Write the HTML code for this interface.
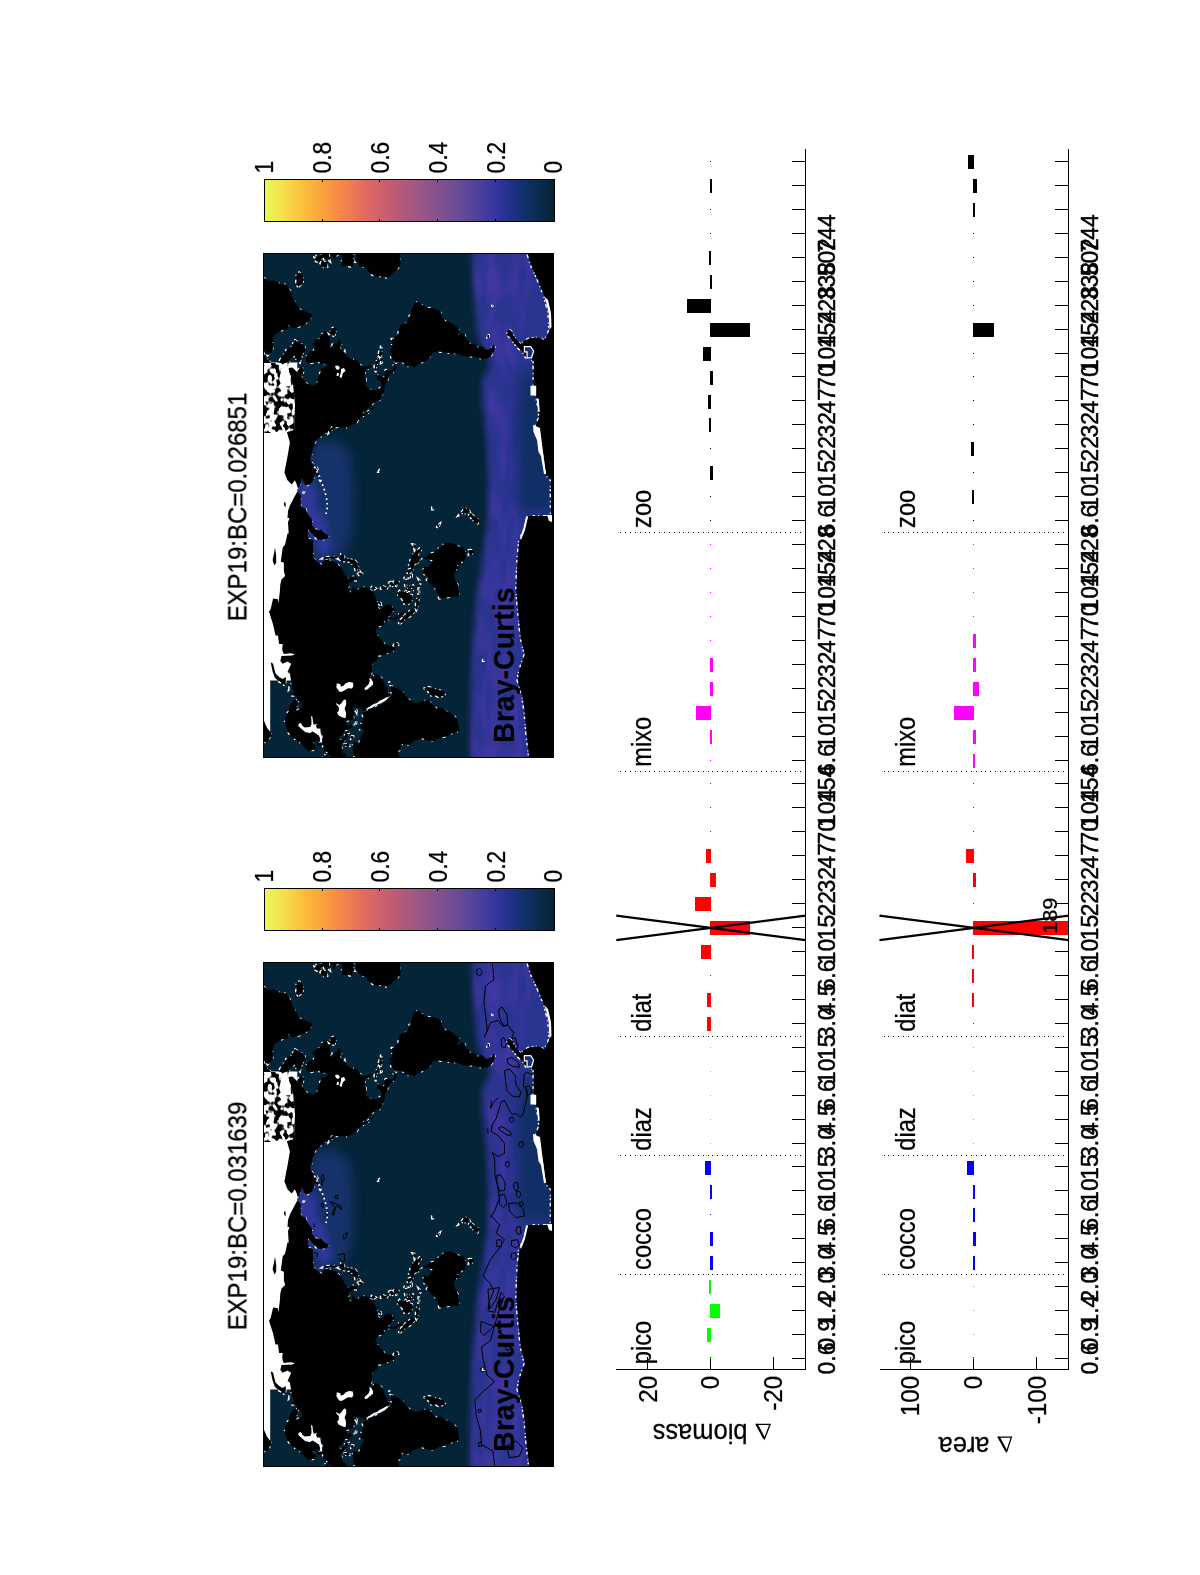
<!DOCTYPE html><html><head><meta charset="utf-8"><title>EXP19 Bray-Curtis</title><style>
html,body{margin:0;padding:0;background:#fff}
svg{display:block}
text{font-family:"Liberation Sans",sans-serif;fill:#000;stroke:#000;stroke-width:0.3px}
.t24{font-size:25px}
.xt{stroke-width:0.5px;font-size:24.6px}
.t27{font-size:27.5px}
.t28{font-size:28.5px}
.t21{font-size:21px}
.ttl{font-size:26.5px}
.bc{font-size:28.6px;font-weight:bold;stroke-width:0}
</style></head><body>
<svg width="1200" height="1575" viewBox="0 0 1200 1575">
<rect width="1200" height="1575" fill="#fff"/><g opacity="0.999">
<defs><linearGradient id="cbar" x1="0" x2="1" y1="0" y2="0"><stop offset="0" stop-color="#e8fa5b"/><stop offset="0.05" stop-color="#f3e64f"/><stop offset="0.1" stop-color="#f9cf43"/><stop offset="0.15" stop-color="#fbb93c"/><stop offset="0.2" stop-color="#fba33b"/><stop offset="0.25" stop-color="#f68d45"/><stop offset="0.3" stop-color="#ee7b52"/><stop offset="0.35" stop-color="#e16b5f"/><stop offset="0.4" stop-color="#d0616a"/><stop offset="0.45" stop-color="#bd5b75"/><stop offset="0.5" stop-color="#a9587f"/><stop offset="0.55" stop-color="#965587"/><stop offset="0.6" stop-color="#83528e"/><stop offset="0.65" stop-color="#704e94"/><stop offset="0.7" stop-color="#5c4899"/><stop offset="0.75" stop-color="#483f9e"/><stop offset="0.8" stop-color="#35369f"/><stop offset="0.85" stop-color="#1f3189"/><stop offset="0.9" stop-color="#0f3169"/><stop offset="0.95" stop-color="#0b2b4d"/><stop offset="1" stop-color="#042333"/></linearGradient><clipPath id="mclip"><rect x="263.5" y="253.3" width="289.5" height="504.2"/></clipPath>
<filter id="b3" x="-20%" y="-20%" width="140%" height="140%"><feGaussianBlur stdDeviation="3"/></filter>
<filter id="b2" x="-20%" y="-20%" width="140%" height="140%"><feGaussianBlur stdDeviation="1.8"/></filter>
<filter id="b6" x="-30%" y="-30%" width="160%" height="160%"><feGaussianBlur stdDeviation="6"/></filter>
<filter id="mott" x="0" y="0" width="100%" height="100%" filterUnits="objectBoundingBox" color-interpolation-filters="sRGB"><feTurbulence type="fractalNoise" baseFrequency="0.08 0.03" numOctaves="2" seed="7" result="n"/><feColorMatrix in="n" type="matrix" values="0 0 0 0 0.31  0 0 0 0 0.22  0 0 0 0 0.68  2.2 0 0 0 -0.75" result="c"/><feGaussianBlur in="SourceAlpha" stdDeviation="2.5" result="a"/><feComposite in="c" in2="a" operator="in"/></filter>
<filter id="speck" x="0" y="0" width="100%" height="100%" color-interpolation-filters="sRGB"><feTurbulence type="fractalNoise" baseFrequency="0.16 0.13" numOctaves="2" seed="11" result="n"/><feColorMatrix in="n" type="matrix" values="0 0 0 0 0  0 0 0 0 0  0 0 0 0 0  9 0 0 0 -4.3" result="c"/><feComposite in="c" in2="SourceAlpha" operator="in"/></filter>
<path id="landc" d="M355.1 261.5L356.3 256.1L355.1 253.3L353.4 249.1L353.1 242.1L352.8 239.3L356.5 237.9L358.2 239.3L359.6 237.9L360.9 232.3L364.5 226.7L363.3 225.3L360.2 225.3L360.6 221.1L362.3 218.3L363.5 212.7L362.4 209.9L363.1 207.8L362.8 205.4L365.0 207.8L367.8 206.4L372.7 204.3L374.8 203.4L377.6 201.5L380.7 201.0L381.8 199.2L385.3 198.0L386.3 195.9L389.2 193.1L390.8 192.6L392.3 190.3L391.3 187.5L391.0 184.7L390.5 181.6L393.0 182.1L397.9 184.7L400.7 186.1L403.6 188.9L405.6 191.7L408.4 194.5L409.8 195.9L411.9 197.3L414.0 198.2L416.1 198.7L418.9 198.0L421.0 197.5L423.1 196.6L427.7 196.4L430.1 197.3L432.4 200.8L434.8 202.2L436.4 204.3L439.5 203.6L442.6 203.7L445.0 207.1L447.3 207.3L450.1 208.0L451.9 209.9L453.9 211.3L456.0 213.4L457.6 215.5L458.0 217.4L458.2 221.1L459.3 225.3L458.5 227.4L455.7 227.8L452.7 228.8L449.8 230.2L447.0 232.0L442.6 233.0L440.0 233.1L436.4 235.1L433.2 236.8L430.1 236.8L426.2 235.8L422.4 234.0L419.6 234.8L415.4 236.1L413.3 236.8L410.5 240.0L408.0 240.7L405.6 240.0L402.8 239.6L401.0 240.7L400.8 243.5L401.0 244.9L398.3 247.0L398.2 249.8L398.9 251.9L400.0 255.4L399.9 257.5L399.9 260.3L400.8 263.8L400.0 265.9L397.6 268.7L395.1 271.5L393.3 272.2L391.6 274.3L389.5 276.8L387.4 276.8L386.4 277.8L384.6 276.4L380.4 276.1L377.6 277.1L374.1 275.7L370.6 273.6L368.1 271.5L366.7 268.7L365.3 267.0L362.4 266.9L359.4 265.2L358.2 262.8Z M355.1 765.8L356.3 760.3L355.1 757.5L353.4 753.3L353.1 746.3L352.8 743.5L356.5 742.1L358.2 743.5L359.6 742.1L360.9 736.5L364.5 730.9L363.3 729.5L360.2 729.5L360.6 725.3L362.3 722.5L363.5 716.9L362.4 714.1L363.1 712.0L362.8 709.6L365.0 712.0L367.8 710.6L372.7 708.5L374.8 707.6L377.6 705.7L380.7 705.3L381.8 703.4L385.3 702.2L386.3 700.1L389.2 697.3L390.8 696.9L392.3 694.5L391.3 691.7L391.0 688.9L390.5 685.8L393.0 686.3L397.9 688.9L400.7 690.3L403.6 693.1L405.6 695.9L408.4 698.7L409.8 700.1L411.9 701.5L414.0 702.5L416.1 702.9L418.9 702.2L421.0 701.8L423.1 700.8L427.7 700.6L430.1 701.5L432.4 705.0L434.8 706.4L436.4 708.5L439.5 707.8L442.6 707.9L445.0 711.3L447.3 711.6L450.1 712.3L451.9 714.1L453.9 715.5L456.0 717.6L457.6 719.7L458.0 721.6L458.2 725.3L459.3 729.5L458.5 731.6L455.7 732.0L452.7 733.0L449.8 734.4L447.0 736.2L442.6 737.2L440.0 737.3L436.4 739.3L433.2 741.0L430.1 741.0L426.2 740.0L422.4 738.2L419.6 739.0L415.4 740.3L413.3 741.0L410.5 744.2L408.0 744.9L405.6 744.2L402.8 743.8L401.0 744.9L400.8 747.7L401.0 749.1L398.3 751.2L398.2 754.0L398.9 756.1L400.0 759.6L399.9 761.7L399.9 764.5L400.8 768.0L400.0 770.1L397.6 772.9L395.1 775.7L393.3 776.4L391.6 778.5L389.5 781.0L387.4 781.0L386.4 782.0L384.6 780.6L380.4 780.3L377.6 781.3L374.1 779.9L370.6 777.8L368.1 775.7L366.7 772.9L365.3 771.2L362.4 771.1L359.4 769.4L358.2 767.0Z M354.8 261.1L353.1 262.4L353.1 265.9L350.2 266.6L346.3 265.6L342.9 266.2L341.7 264.5L342.2 258.9L342.2 255.8L340.2 255.0L337.7 255.0L335.5 256.4L334.4 259.6L333.1 259.9L332.7 255.4L330.9 255.8L331.2 253.0L328.9 251.0L327.8 248.4L325.8 247.0L324.3 246.3L323.7 243.5L323.0 241.0L320.2 241.2L317.5 241.8L316.2 238.6L319.3 238.6L321.2 239.3L323.0 237.9L323.0 233.7L321.5 228.1L322.3 226.0L320.8 223.9L317.5 223.9L316.2 222.5L317.1 219.7L315.1 219.2L313.5 220.4L312.7 214.1L312.0 211.3L310.8 214.1L312.2 221.1L310.8 223.2L305.9 223.5L299.8 218.3L297.8 219.7L298.3 222.5L301.5 223.5L306.4 228.8L309.6 229.2L312.0 227.0L317.5 230.2L319.0 230.9L320.2 233.3L320.2 235.4L318.4 235.8L314.8 237.6L313.3 238.6L315.5 241.8L315.1 244.9L312.0 246.3L307.1 246.3L303.4 242.1L300.7 238.6L297.3 235.8L292.4 233.0L289.9 230.2L287.5 226.7L285.6 221.1L285.1 216.9L285.1 213.4L286.8 209.9L289.0 207.1L289.9 201.5L293.6 195.9L296.6 195.9L297.3 200.1L295.6 207.1L299.8 204.5L301.7 204.3L302.2 200.8L300.7 197.3L297.3 196.6L296.8 191.7L292.4 191.4L291.7 188.9L294.9 188.2L292.4 184.7L291.2 177.7L289.9 169.2L287.5 167.8L291.2 159.4L287.5 157.3L282.7 159.4L280.3 156.6L281.5 151.7L292.4 151.3L294.9 149.6L289.9 148.9L283.9 149.9L282.7 147.5L282.2 144.0L282.7 139.8L279.1 139.8L277.9 131.4L275.5 131.4L273.1 120.2L269.0 107.6L270.7 104.8L273.1 94.3L277.9 95.0L278.4 99.2L279.8 88.0L280.3 80.3L281.5 75.4L285.1 71.9L283.9 67.0L283.9 58.6L280.8 57.2L282.7 43.2L285.1 40.4L287.5 29.2L288.7 29.2L288.0 18.0L289.5 13.8L287.5 13.8L288.0 6.8L289.9 1.2L293.6 -5.8L297.3 -12.8L301.0 -8.6L300.5 -1.6L301.0 2.6L305.9 4.7L307.6 9.6L312.0 15.2L312.0 20.8L315.7 25.0L319.3 26.4L321.2 25.0L321.5 26.4L324.8 29.2L328.5 31.3L328.5 33.8L323.0 35.5L317.5 35.2L315.7 33.4L312.0 29.2L308.3 25.0L307.6 29.2L308.3 34.1L313.3 36.2L312.9 43.2L313.3 53.0L316.6 57.2L322.1 60.7L323.0 57.2L325.8 55.4L330.3 56.5L334.0 57.2L337.7 60.0L341.2 63.5L343.4 67.0L343.8 69.8L345.4 71.6L348.3 74.7L353.1 72.2L356.0 72.2L357.0 74.7L357.4 76.4L353.9 76.1L351.9 76.4L351.4 78.2L348.9 78.2L348.3 79.6L349.7 83.1L347.1 82.4L349.2 86.6L350.6 88.4L352.6 86.6L352.1 83.8L353.1 81.7L354.8 84.5L356.5 86.2L359.9 84.5L362.4 82.7L364.7 83.1L365.7 82.4L367.8 83.8L370.6 85.6L372.6 87.3L374.1 89.4L375.5 92.9L376.2 95.0L377.2 98.5L378.6 99.2L376.9 99.6L376.9 102.0L378.3 103.8L380.7 105.2L383.2 103.4L385.3 101.0L388.8 100.2L390.9 100.3L392.3 103.4L393.7 104.1L394.8 106.2L393.0 106.5L391.6 109.0L390.2 109.7L389.1 111.8L388.1 113.2L390.9 113.2L393.0 114.2L395.1 113.2L397.5 111.8L399.3 109.7L401.4 108.5L403.5 108.3L405.0 107.3L405.2 108.3L403.1 111.4L399.3 112.8L397.6 113.6L395.8 115.3L393.7 115.6L391.6 115.0L388.8 115.3L386.0 116.4L383.9 116.6L383.9 118.8L384.6 120.9L381.8 121.2L379.0 122.3L376.9 124.4L375.5 125.8L376.5 128.6L377.0 131.4L379.0 132.1L379.7 134.2L383.5 137.7L385.3 140.8L388.1 141.2L391.6 141.5L393.7 142.6L395.7 144.7L394.4 146.1L390.9 147.5L387.4 148.9L384.6 150.3L381.1 151.0L377.6 151.5L377.9 154.5L375.8 156.6L373.8 158.0L372.4 159.2L371.7 162.9L371.9 167.1L371.3 170.9L369.5 173.2L368.9 174.4L369.8 177.0L368.4 179.8L365.7 182.6L364.5 184.7L365.7 186.1L367.8 185.1L369.9 183.1L372.0 182.6L370.6 181.4L372.7 181.0L373.1 178.4L371.3 175.8L370.3 174.4L372.7 174.2L374.0 171.3L375.5 169.5L378.3 171.1L380.4 172.5L381.8 173.9L382.9 176.0L384.6 180.2L387.1 184.7L389.1 190.3L389.2 192.4L386.3 193.3L383.9 193.8L380.8 195.9L377.6 198.4L374.1 199.4L371.7 201.2L368.1 203.6L365.7 204.4L367.8 205.2L366.7 206.8L365.1 207.6L362.8 205.4L360.2 204.3L356.5 203.1L353.6 202.6L353.4 204.8L354.6 207.8L353.4 210.4L353.8 212.7L353.1 214.9L350.6 216.3L348.9 215.9L348.0 216.6L346.6 216.9L346.6 219.7L347.5 221.4L351.1 219.7L351.7 221.1L353.9 221.1L353.4 222.5L351.9 223.5L348.5 225.3L345.4 226.1L344.1 226.7L342.1 230.9L339.1 233.0L338.4 234.1L338.9 236.1L341.2 235.8L343.8 233.7L344.9 230.9L347.7 227.4L347.1 229.5L348.9 230.2L349.7 229.5L351.4 230.9L348.0 231.3L346.6 233.7L345.1 236.1L343.1 238.6L341.2 239.3L340.5 241.0L341.5 242.8L342.7 244.9L342.1 247.7L342.9 249.1L344.8 248.8L346.3 252.2L348.9 253.7L350.2 253.3L351.9 254.3L353.4 256.1L353.6 259.6Z M354.8 765.3L353.1 766.6L353.1 770.1L350.2 770.8L346.3 769.8L342.9 770.4L341.7 768.7L342.2 763.1L342.2 760.0L340.2 759.2L337.7 759.2L335.5 760.6L334.4 763.8L333.1 764.1L332.7 759.6L330.9 760.0L331.2 757.2L328.9 755.3L327.8 752.6L325.8 751.2L324.3 750.5L323.7 747.7L323.0 745.2L320.2 745.5L317.5 746.0L316.2 742.8L319.3 742.8L321.2 743.5L323.0 742.1L323.0 737.9L321.5 732.3L322.3 730.2L320.8 728.1L317.5 728.1L316.2 726.7L317.1 723.9L315.1 723.5L313.5 724.6L312.7 718.3L312.0 715.5L310.8 718.3L312.2 725.3L310.8 727.4L305.9 727.7L299.8 722.5L297.8 723.9L298.3 726.7L301.5 727.7L306.4 733.0L309.6 733.4L312.0 731.2L317.5 734.4L319.0 735.1L320.2 737.5L320.2 739.6L318.4 740.0L314.8 741.8L313.3 742.8L315.5 746.0L315.1 749.1L312.0 750.5L307.1 750.5L303.4 746.3L300.7 742.8L297.3 740.0L292.4 737.2L289.9 734.4L287.5 730.9L285.6 725.3L285.1 721.1L285.1 717.6L286.8 714.1L289.0 711.3L289.9 705.7L293.6 700.1L296.6 700.1L297.3 704.3L295.6 711.3L299.8 708.8L301.7 708.5L302.2 705.0L300.7 701.5L297.3 700.8L296.8 695.9L292.4 695.6L291.7 693.1L294.9 692.4L292.4 688.9L291.2 681.9L289.9 673.5L287.5 672.1L291.2 663.7L287.5 661.6L282.7 663.7L280.3 660.9L281.5 656.0L292.4 655.5L294.9 653.9L289.9 653.2L283.9 654.1L282.7 651.8L282.2 648.3L282.7 644.1L279.1 644.1L277.9 635.6L275.5 635.6L273.1 624.4L269.0 611.8L270.7 609.0L273.1 598.5L277.9 599.2L278.4 603.4L279.8 592.2L280.3 584.5L281.5 579.6L285.1 576.1L283.9 571.2L283.9 562.8L280.8 561.4L282.7 547.4L285.1 544.6L287.5 533.4L288.7 533.4L288.0 522.2L289.5 518.0L287.5 518.0L288.0 511.0L289.9 505.4L293.6 498.4L297.3 491.4L301.0 495.6L300.5 502.6L301.0 506.8L305.9 508.9L307.6 513.8L312.0 519.4L312.0 525.0L315.7 529.2L319.3 530.6L321.2 529.2L321.5 530.6L324.8 533.4L328.5 535.5L328.5 538.0L323.0 539.7L317.5 539.4L315.7 537.6L312.0 533.4L308.3 529.2L307.6 533.4L308.3 538.3L313.3 540.4L312.9 547.4L313.3 557.2L316.6 561.4L322.1 564.9L323.0 561.4L325.8 559.6L330.3 560.7L334.0 561.4L337.7 564.2L341.2 567.7L343.4 571.2L343.8 574.0L345.4 575.8L348.3 578.9L353.1 576.4L356.0 576.4L357.0 578.9L357.4 580.6L353.9 580.3L351.9 580.6L351.4 582.4L348.9 582.4L348.3 583.8L349.7 587.3L347.1 586.6L349.2 590.8L350.6 592.6L352.6 590.8L352.1 588.0L353.1 585.9L354.8 588.7L356.5 590.4L359.9 588.7L362.4 586.9L364.7 587.3L365.7 586.6L367.8 588.0L370.6 589.8L372.6 591.5L374.1 593.6L375.5 597.1L376.2 599.2L377.2 602.7L378.6 603.4L376.9 603.9L376.9 606.2L378.3 608.1L380.7 609.5L383.2 607.6L385.3 605.3L388.8 604.4L390.9 604.6L392.3 607.6L393.7 608.3L394.8 610.4L393.0 610.7L391.6 613.2L390.2 613.9L389.1 616.0L388.1 617.4L390.9 617.4L393.0 618.4L395.1 617.4L397.5 616.0L399.3 613.9L401.4 612.7L403.5 612.5L405.0 611.6L405.2 612.5L403.1 615.6L399.3 617.0L397.6 617.9L395.8 619.5L393.7 619.8L391.6 619.3L388.8 619.5L386.0 620.7L383.9 620.8L383.9 623.0L384.6 625.1L381.8 625.4L379.0 626.5L376.9 628.6L375.5 630.0L376.5 632.8L377.0 635.6L379.0 636.3L379.7 638.4L383.5 642.0L385.3 645.0L388.1 645.5L391.6 645.7L393.7 646.9L395.7 649.0L394.4 650.4L390.9 651.8L387.4 653.2L384.6 654.6L381.1 655.3L377.6 655.7L377.9 658.8L375.8 660.9L373.8 662.3L372.4 663.4L371.7 667.2L371.9 671.4L371.3 675.1L369.5 677.4L368.9 678.6L369.8 681.2L368.4 684.0L365.7 686.8L364.5 688.9L365.7 690.3L367.8 689.3L369.9 687.3L372.0 686.8L370.6 685.6L372.7 685.2L373.1 682.6L371.3 680.0L370.3 678.6L372.7 678.4L374.0 675.6L375.5 673.7L378.3 675.3L380.4 676.7L381.8 678.1L382.9 680.2L384.6 684.4L387.1 688.9L389.1 694.5L389.2 696.6L386.3 697.6L383.9 698.0L380.8 700.1L377.6 702.6L374.1 703.6L371.7 705.4L368.1 707.8L365.7 708.6L367.8 709.5L366.7 711.0L365.1 711.8L362.8 709.6L360.2 708.5L356.5 707.4L353.6 706.8L353.4 709.0L354.6 712.0L353.4 714.6L353.8 716.9L353.1 719.1L350.6 720.5L348.9 720.1L348.0 720.8L346.6 721.1L346.6 723.9L347.5 725.6L351.1 723.9L351.7 725.3L353.9 725.3L353.4 726.7L351.9 727.7L348.5 729.5L345.4 730.3L344.1 730.9L342.1 735.1L339.1 737.2L338.4 738.3L338.9 740.3L341.2 740.0L343.8 737.9L344.9 735.1L347.7 731.6L347.1 733.7L348.9 734.4L349.7 733.7L351.4 735.1L348.0 735.5L346.6 737.9L345.1 740.3L343.1 742.8L341.2 743.5L340.5 745.2L341.5 747.0L342.7 749.1L342.1 751.9L342.9 753.3L344.8 753.0L346.3 756.4L348.9 757.9L350.2 757.5L351.9 758.5L353.4 760.3L353.6 763.8Z M298.3 488.6L296.1 483.0L294.9 480.2L291.7 484.4L287.5 480.2L284.4 472.5L285.6 466.2L287.5 456.4L288.5 450.8L289.9 442.4L287.0 432.6L288.7 428.4L288.7 421.4L291.2 414.4L292.4 407.3L291.2 400.3L292.4 393.3L292.4 387.7L283.9 386.3L287.5 382.1L291.2 376.5L288.7 372.3L288.7 368.1L292.4 367.4L297.3 372.3L301.0 375.1L302.9 379.3L307.1 383.5L312.0 385.6L314.4 385.6L317.5 382.8L318.4 376.5L320.6 372.3L321.2 368.6L324.8 368.1L327.9 366.0L327.6 363.9L323.9 363.7L321.2 364.6L318.4 361.1L314.8 361.8L312.0 363.2L305.9 361.8L306.4 356.2L309.6 351.3L313.8 350.6L315.1 347.1L312.0 344.3L313.8 342.9L316.6 340.1L319.7 338.7L321.7 334.5L324.8 331.7L326.7 331.4L327.9 334.5L330.0 337.3L330.0 342.9L330.3 346.4L333.4 349.9L332.5 344.3L335.3 343.6L337.3 343.3L338.6 338.7L340.4 342.2L342.1 345.7L339.5 345.7L340.0 347.1L341.2 349.9L342.9 352.0L344.6 352.4L345.1 351.3L345.6 353.4L347.0 356.9L348.9 357.2L350.6 359.0L353.1 359.7L355.6 359.3L357.4 361.1L358.5 363.2L361.1 365.3L363.6 367.2L367.1 366.3L369.5 365.3L371.7 365.9L371.6 367.0L369.9 368.1L367.8 369.3L366.1 369.3L365.0 370.9L365.3 373.0L364.3 375.1L364.5 377.9L366.1 378.6L366.0 380.7L365.3 384.2L366.1 386.3L368.1 389.1L371.3 389.8L375.5 390.3L378.3 389.1L380.4 387.7L381.5 385.6L381.0 382.1L380.1 380.7L377.6 380.0L376.8 376.5L377.2 374.9L379.7 375.8L381.1 376.5L384.6 377.0L384.7 373.7L384.9 370.9L386.0 369.8L388.8 370.2L391.6 370.5L393.0 369.5L394.4 368.1L394.7 366.7L393.7 365.1L393.8 363.2L395.1 361.8L393.7 359.7L392.0 358.7L391.3 356.9L390.2 354.8L389.6 353.4L391.6 353.7L391.6 352.7L389.9 351.3L391.2 349.2L392.2 345.7L392.3 342.9L392.0 340.1L393.4 338.7L395.1 337.3L397.2 335.2L398.6 333.1L398.9 328.9L400.3 326.1L401.4 324.7L404.5 323.3L407.0 323.3L408.1 321.2L408.0 319.1L409.8 315.6L410.9 314.9L411.1 311.4L411.9 307.9L413.7 305.4L414.7 302.6L417.5 302.0L419.6 302.6L422.4 305.1L425.4 307.2L429.3 307.9L432.9 308.3L436.4 309.3L439.5 310.7L441.1 312.1L441.4 315.6L443.0 318.4L445.5 321.2L448.8 321.4L451.9 323.3L455.3 326.1L458.0 328.2L459.5 330.3L458.8 333.1L458.0 335.1L461.6 333.4L464.5 334.0L466.0 337.3L466.2 340.1L469.1 340.5L469.4 344.3L471.9 342.9L473.5 344.7L476.0 345.0L477.8 347.8L480.5 345.7L484.1 347.8L486.0 349.9L489.2 349.2L492.3 347.1L493.7 344.6L495.0 347.1L494.1 351.3L491.4 355.5L487.8 358.3L482.3 359.0L477.8 357.6L472.7 356.2L469.4 356.9L464.5 356.2L462.1 355.5L456.5 353.4L451.9 353.4L447.3 352.7L442.6 352.0L436.4 351.6L433.7 351.9L431.7 354.1L429.3 358.3L426.6 360.1L423.8 361.4L420.3 363.2L416.8 365.1L415.4 366.7L413.3 367.2L411.6 365.3L410.1 366.6L407.7 366.0L405.9 365.3L404.9 363.7L401.7 361.8L399.3 361.6L397.2 361.8L396.5 362.8L395.4 362.5L394.5 364.6L395.5 365.8L396.8 366.0L396.4 367.7L395.4 369.5L395.1 370.4L393.0 372.3L392.3 373.5L391.3 373.5L388.9 375.8L388.5 377.2L387.7 380.0L386.7 382.4L384.6 384.9L385.0 387.7L384.3 390.5L383.2 393.3L381.8 396.1L380.8 398.5L379.3 401.0L376.9 400.8L374.5 402.4L372.0 404.5L369.9 406.5L368.1 408.1L366.4 410.2L363.3 411.6L362.1 413.9L365.0 413.8L367.8 411.6L370.6 409.5L373.1 407.8L374.8 406.6L374.4 407.6L372.3 410.2L370.3 410.4L368.5 413.0L366.7 413.4L364.5 415.5L360.8 417.2L358.5 419.0L357.4 422.1L353.9 423.9L351.9 424.9L348.9 426.7L347.1 427.4L343.2 427.2L337.7 427.0L333.4 427.8L333.1 425.6L331.8 425.6L330.0 428.4L327.6 432.3L324.8 433.3L322.1 435.8L319.3 437.5L316.6 440.3L314.8 443.1L314.2 445.9L312.4 449.4L312.0 454.3L310.0 457.8L310.8 461.3L312.9 463.4L313.8 466.2L310.0 465.5L314.2 466.9L316.6 469.7L318.1 473.9L320.2 477.4L321.5 482.3L319.3 478.8L316.9 475.3L314.4 473.9L314.2 477.4L312.9 480.2L312.0 482.3L309.1 484.4L307.1 485.8L304.2 483.7L302.7 478.8L301.0 478.8L301.0 483.0L299.0 486.5Z M267.8 355.5L263.5 348.5L259.2 340.1L257.7 323.3L255.1 302.3L256.8 288.3L259.9 278.5L263.5 277.1L268.3 281.3L273.1 279.9L277.9 282.7L282.7 284.8L286.3 284.1L288.7 288.3L291.7 292.5L292.4 298.1L296.1 302.3L298.0 306.5L299.8 309.3L303.4 310.7L308.3 312.8L312.0 314.2L312.0 316.3L309.6 320.5L305.9 323.3L302.2 325.4L297.3 327.5L292.4 328.2L288.7 324.7L287.5 329.6L283.9 329.6L279.1 331.7L274.3 335.2L272.6 341.5L273.1 348.5L270.7 352.7Z M439.5 598.5L445.8 597.8L451.9 596.4L457.3 596.4L458.6 596.2L459.6 592.2L458.0 589.4L457.9 584.5L455.4 581.0L454.4 576.8L454.2 573.3L455.9 569.8L459.3 567.7L459.6 567.0L456.5 564.9L460.4 564.5L461.3 562.1L464.5 560.7L465.8 556.5L464.9 554.4L466.2 552.3L464.2 550.2L463.4 547.4L459.6 546.7L456.5 545.3L452.7 543.2L448.8 542.5L445.0 543.2L441.9 546.0L439.5 548.1L436.4 549.5L434.8 552.6L432.4 553.0L428.5 554.0L427.4 556.5L422.4 557.5L422.4 558.6L425.4 559.3L429.3 559.3L432.4 560.3L432.4 562.1L429.8 564.9L428.2 567.7L426.2 567.0L424.1 566.0L423.8 568.4L422.8 571.9L424.1 574.0L426.2 575.4L428.5 576.1L428.2 578.2L426.9 579.6L427.7 581.7L430.6 583.8L432.4 586.2L434.0 586.6L436.0 589.4L437.5 592.9L438.4 595.7L439.2 597.8Z"/>
<path id="landi" d="M423.8 688.5L429.3 686.9L432.4 688.2L436.4 689.2L441.1 690.6L444.2 691.7L445.0 694.2L442.6 696.2L438.7 696.9L435.6 695.3L431.7 695.9L429.8 693.1L427.7 690.6L425.4 689.6Z M469.0 554.8L469.1 549.9L471.4 549.8L473.7 551.6L473.5 553.0L471.4 554.1Z M458.6 515.6L460.1 513.4L462.4 511.6L463.9 509.3L464.0 507.5L466.7 508.9L469.4 510.6L470.4 512.4L468.1 512.7L466.7 514.1L464.5 512.8L462.1 513.1L459.6 515.2Z M468.8 515.6L469.9 513.5L471.4 513.8L473.5 515.5L474.9 517.6L477.4 518.3L478.9 520.4L478.2 522.9L477.3 524.3L474.4 521.8L472.4 518.7L470.6 517.3Z M408.1 574.0L407.6 571.9L408.1 569.8L411.6 568.4L409.2 564.9L410.6 560.0L412.5 555.1L414.7 553.0L415.4 550.9L417.5 550.5L421.4 546.7L421.3 550.2L418.9 553.0L417.8 555.8L419.6 557.2L419.7 560.0L418.2 562.8L418.6 564.2L416.4 563.1L414.7 564.2L413.2 567.7L412.6 571.2L410.9 571.5L410.9 572.6L409.1 573.6Z M404.9 604.8L404.6 603.4L403.5 601.6L402.5 599.2L400.6 597.1L398.3 595.0L397.2 593.6L398.6 592.6L399.7 590.8L401.0 592.2L403.5 592.6L405.6 591.1L406.6 592.9L408.4 592.9L410.2 594.6L412.3 595.0L412.6 596.9L411.6 598.5L411.8 600.9L410.9 603.0L409.1 603.4L407.7 604.6Z M399.2 624.0L399.7 620.9L401.8 618.8L403.9 616.7L405.6 614.4L407.7 612.5L409.8 611.1L411.5 609.0L415.1 609.3L415.0 611.1L412.9 613.9L410.6 616.0L408.1 617.7L404.9 619.3L402.8 621.6L400.3 623.7Z M416.5 610.2L415.4 608.3L416.2 605.5L416.1 602.3L416.8 599.7L417.9 597.1L419.0 597.4L418.6 601.3L417.9 605.5L417.4 608.3Z M407.3 590.8L405.6 589.4L405.6 586.6L404.9 583.1L405.6 582.4L406.6 585.2L406.4 588.3L408.3 589.1L408.4 587.3L408.3 585.2L409.5 586.6L411.5 585.9L413.3 585.2L413.7 586.6L411.9 587.6L410.8 588.0L411.2 589.0L414.7 588.9L414.7 590.1L411.9 590.1L410.8 591.1Z M381.1 588.7L381.2 586.3L383.9 586.2L386.0 587.3L387.4 585.9L387.7 583.8L389.2 583.8L388.4 585.5L387.8 587.3L387.0 588.6L384.9 589.4L383.2 589.0Z M397.2 586.6L395.0 584.5L393.4 582.0L395.1 580.3L398.2 580.6L398.9 581.7L397.5 583.8L396.5 584.8Z M390.5 586.6L390.9 584.9L389.5 582.4L391.3 581.6L393.0 582.7L393.7 584.5L393.0 585.9Z M371.7 588.0L372.0 586.8L374.8 587.5L376.2 588.3L374.8 589.3L373.1 589.0Z M380.1 605.3L378.9 603.0L379.6 602.0L381.1 603.0L381.4 604.8Z M358.2 574.2L357.9 572.6L355.6 571.2L355.3 568.4L352.6 566.0L352.4 563.5L349.7 561.7L347.0 561.4L345.8 559.6L348.0 558.8L350.9 559.2L353.4 560.2L355.3 560.4L356.5 561.7L357.2 563.5L357.2 565.6L359.1 567.3L357.2 568.4L357.7 571.2L358.7 573.3Z M359.9 575.7L358.4 574.0L359.9 572.8L362.6 573.6L363.0 575.0L361.1 575.1Z M358.4 571.9L357.7 569.4L358.7 569.1L360.2 571.2Z M345.4 561.4L342.6 561.0L338.8 559.0L340.5 557.2L341.5 554.0L342.9 554.4L344.6 556.8L343.8 559.6L345.1 560.0Z M322.4 558.6L324.8 557.2L330.3 556.8L334.0 556.8L336.8 556.5L337.7 557.9L334.9 558.6L330.3 558.3L326.7 558.9Z M393.6 645.7L394.4 644.3L396.5 642.9L398.2 643.6L398.6 645.0L396.5 645.9Z M298.5 286.9L296.3 284.1L296.6 278.5L296.6 274.3L299.3 272.3L301.5 274.3L303.7 279.2L302.7 282.7L301.0 284.8Z M330.1 261.0L329.2 257.5L328.9 253.3L328.1 251.5L325.4 250.9L324.3 253.0L322.3 253.6L320.6 255.4L318.8 256.4L316.6 255.8L316.0 258.2L314.6 257.5L314.8 260.3L317.1 261.7L319.3 261.0L321.2 260.3L321.5 257.9L323.9 257.5L324.5 259.6L326.7 259.6L327.2 260.6L327.8 257.9L328.5 259.6Z M330.1 765.2L329.2 761.7L328.9 757.5L328.1 755.7L325.4 755.1L324.3 757.2L322.3 757.8L320.6 759.6L318.8 760.6L316.6 760.0L316.0 762.4L314.6 761.7L314.8 764.5L317.1 765.9L319.3 765.2L321.2 764.5L321.5 762.1L323.9 761.7L324.5 763.8L326.7 763.8L327.2 764.8L327.8 762.1L328.5 763.8Z M326.3 261.7L323.9 261.8L322.1 261.1L320.6 263.1L321.9 265.2L322.6 267.3L326.1 267.0L327.6 266.6L326.7 263.8Z M376.3 372.2L374.9 369.5L374.7 366.7L375.5 363.9L376.8 361.1L378.0 358.3L378.7 357.2L379.1 358.3L379.1 361.8L378.0 362.5L376.9 364.6L375.9 367.4L376.2 369.5Z M381.2 357.5L379.1 355.5L379.1 352.7L380.0 349.9L381.0 349.1L381.5 351.3L382.2 353.4L381.5 355.5Z M381.1 347.4L381.2 345.3L381.8 345.4L381.8 347.4Z M381.2 363.0L381.5 360.1L381.9 360.4L382.1 362.5Z M334.6 336.3L328.5 333.1L327.6 331.0L330.3 331.7L331.6 328.2L335.3 327.2L336.4 328.9L335.8 331.7Z M278.6 365.3L280.3 359.7L283.9 354.1L287.5 348.5L291.2 347.1L295.3 340.1L299.8 342.9L304.6 345.7L305.6 349.9L302.7 354.1L301.0 358.3L300.2 362.5L296.8 359.7L294.9 355.5L291.2 358.3L288.7 362.5L287.5 368.1L286.8 373.7L285.1 377.9L280.3 377.9L278.6 372.3Z M289.9 417.2L286.3 413.0L283.9 418.6L280.8 417.2L280.3 407.3L280.8 400.3L285.1 397.5L288.2 395.4L290.2 400.3L290.4 407.3L291.2 413.0Z M282.7 428.4L277.9 425.6L277.4 417.2L280.3 415.8L284.4 422.8Z M271.9 379.3L268.3 373.7L262.3 379.3L257.5 368.1L256.3 351.3L258.0 340.1L262.3 348.5L265.9 358.3L269.5 361.1L272.4 365.3Z M275.5 382.1L271.9 377.9L273.6 365.3L276.2 365.3L276.7 375.1Z M274.3 421.4L269.5 415.8L269.5 400.3L271.9 389.1L275.5 390.5L275.5 403.1L276.7 411.6Z M298.5 375.1L297.3 370.9L301.0 366.7L304.2 369.5L302.9 373.7Z M264.2 742.1L263.5 735.1L262.3 726.7L263.5 719.7L267.1 728.1L270.7 732.3L271.7 735.1L269.5 737.9L267.1 742.1Z M285.1 685.4L281.5 682.6L277.9 680.5L274.8 677.7L272.4 670.7L270.7 662.3L273.1 663.7L275.5 673.5L279.1 677.0L282.7 679.1L285.8 677.0L285.8 681.9Z M274.3 565.6L272.6 560.0L274.1 553.0L275.0 547.4L276.2 555.8L276.2 562.8Z M285.1 507.5L283.7 504.0L285.1 501.2L285.8 505.4Z M351.4 740.0L350.9 735.7L353.6 736.2L352.6 739.3Z M349.7 746.0L349.4 743.9L346.0 744.1L342.9 744.2L343.8 745.5L346.3 745.9Z M356.8 712.3L355.3 709.2L357.0 710.2Z M355.6 724.6L356.0 720.7L356.7 722.8Z M421.4 584.5L419.9 582.4L418.8 579.3L420.0 580.3L421.3 583.1Z M418.6 595.0L418.6 590.8L418.8 588.0L418.5 585.2L419.3 585.5L419.3 590.1L419.6 593.9Z M404.2 578.9L404.9 577.5L407.0 577.2L408.1 578.2L405.9 578.8Z M411.1 578.2L411.2 574.3L412.3 574.7L411.9 577.9Z M414.7 549.5L414.0 546.0L412.9 544.2L414.7 544.6L415.8 547.4Z M436.7 527.8L439.0 524.3L440.1 523.6L439.3 525.7Z M432.4 509.2L432.3 507.4L433.5 507.5L433.4 509.2Z M378.7 471.8L379.6 470.2L380.4 471.2L379.6 471.8Z M487.4 338.7L487.6 334.5L489.2 335.2L489.0 338.0Z M492.3 306.5L492.8 303.7L493.7 304.4Z M483.2 660.9L483.6 658.8L484.5 659.5L484.1 660.9Z M391.9 339.8L391.9 338.7L392.9 338.7L392.9 339.8Z M328.9 433.0L329.8 429.1L333.1 426.3L333.1 428.1L331.1 431.2Z M317.1 469.7L315.7 466.9L316.8 466.6L317.9 469.0Z M303.4 493.5L304.2 490.0L304.6 491.4Z M389.4 682.7L389.5 681.3L389.8 682.1Z M289.2 689.6L289.5 687.8L290.4 688.6Z M527.0 250.0L527.4 253.0L531.0 265.0L537.9 280.0L544.5 296.5L548.6 313.0L549.5 329.5L548.0 334.0L544.5 340.0L538.0 337.5L530.0 338.0L524.0 341.0L521.4 344.5L517.0 340.5L513.0 334.5L511.5 331.0L509.5 329.5L507.3 331.0L507.5 335.0L511.0 338.5L515.0 344.0L519.0 348.5L523.0 352.0L526.0 357.5L533.8 360.5L533.8 385.7L536.0 395.6L538.0 405.0L539.5 417.0L536.0 425.0L539.0 436.0L543.0 452.0L546.0 474.8L551.0 480.0L551.0 516.0L528.0 516.0L527.4 518.6L524.8 528.3L519.3 541.3L517.7 557.4L517.0 573.6L516.4 589.8L517.7 606.0L519.3 622.2L520.9 638.3L524.8 654.5L519.3 670.7L517.7 680.4L522.5 696.6L524.8 712.8L526.7 735.4L529.0 754.9L529.0 762.0L560.0 762.0L560.0 250.0Z"/>
<path id="inland" d="M339.5 691.7L336.4 687.5L336.8 683.3L340.4 684.2L340.7 686.8L343.8 685.6L345.4 683.5L348.9 682.1L352.8 682.6L353.4 686.1L352.1 688.6L348.0 688.2L344.6 690.3L342.1 691.7Z M345.4 718.3L342.1 717.3L338.6 715.5L337.1 712.7L338.9 710.6L338.8 707.1L336.2 704.3L335.8 702.9L339.5 705.0L341.5 702.9L344.1 699.4L346.0 700.1L346.3 704.3L344.6 708.5L346.0 712.7L346.0 715.5Z M365.6 711.6L367.8 709.2L372.0 707.8L376.9 704.8L381.1 703.2L385.3 700.8L388.8 697.6L388.8 696.9L385.3 698.0L380.4 700.8L376.9 702.9L373.4 704.3L369.2 707.1L366.0 708.9L367.5 710.2Z M365.0 690.3L364.5 688.2L366.7 686.3L368.8 684.0L369.9 680.5L369.2 678.4L370.9 678.6L373.0 681.9L373.0 684.7L370.9 685.6L370.6 687.0L369.2 687.5L367.4 689.2Z M322.1 742.8L321.9 737.9L320.6 732.3L320.2 728.8L316.9 728.4L315.7 724.6L313.3 724.6L312.4 716.9L311.3 716.2L311.5 723.9L310.3 727.0L304.6 727.4L299.0 723.2L298.3 726.0L305.1 731.9L310.0 733.0L312.6 731.6L316.9 734.0L319.0 735.4L320.2 739.3L319.9 742.1Z M291.2 386.3L290.4 376.5L288.0 368.1L287.5 362.5L282.7 363.9L279.1 379.3L281.5 386.3Z"/>
<g id="ocean">
<rect x="260" y="250" width="296" height="510" fill="#042437"/>
<path d="M300 560 L300 500 L306 465 L314 442 L335 440 L350 452 L354 490 L352 535 L344 556 L325 566 L305 566Z" fill="#13306a" filter="url(#b6)"/>
<path d="M296 512 L297 484 L308 480 L316 490 L316 506 L326 520 L332 548 L322 556 L310 535 L302 520Z" fill="#2f379b" filter="url(#b3)"/>
<path id="soband" d="M471.5 250 L474.3 301 L476.8 332 L481 345 L489 357 L490 366 L483 379 L482.5 402 L485.7 428 L488 450 L488 520 L482 558 L477 596 L473.5 634 L471.7 672 L470.5 710 L470.5 762 L560 762 L560 250Z" fill="#2a3590" filter="url(#b3)"/>
<path d="M471.5 250 L474.3 301 L476.8 332 L481 345 L489 357 L490 366 L483 379 L482.5 402 L485.7 428 L488 450 L488 520 L482 558 L477 596 L473.5 634 L471.7 672 L470.5 710 L470.5 762 L522 762 L518 600 L518 520 L516 420 L520 345 L535 250Z" fill="#4839a9" opacity="0.62" filter="url(#mott)"/>
<path d="M520 372 L516 420 L518 470 L516 512 L560 512 L560 372Z" fill="#0e2e5e" opacity="0.85" filter="url(#b6)"/>
</g></defs>
<g transform="translate(0 0)">
<g clip-path="url(#mclip)">
<use href="#ocean"/>

<path d="M256.3 680.5L297.3 680.5L297.3 362.5L256.3 362.5Z M256.3 734.4L270.2 734.4L270.2 679.1L256.3 679.1Z" fill="#fff"/>
<use href="#landc" fill="none" stroke="#fff" stroke-width="2" stroke-dasharray="1.5 6 3 11 1 8 2.5 15 1 5" transform="translate(-0.3 0.1)"/>
<use href="#landi" fill="none" stroke="#fff" stroke-width="2.2" stroke-dasharray="2 2.5 3.5 4 1 3 2.5 5 1 2" transform="translate(-0.3 0.1)"/>
<use href="#landc" fill="#000"/><use href="#landi" fill="#000"/>
<path d="M264 363 L281 363 L287 370 L293 384 L295 405 L294 430 L284 433 L264 433Z" fill="#fff"/>
<path d="M264 363 L281 363 L287 370 L293 384 L295 405 L294 430 L284 433 L264 433Z" fill="#000" filter="url(#speck)"/>
<use href="#inland" fill="#fff"/>
<path fill="#fff" d="M533 425 L540 428 L543 452 L546 474 L544 474 L541 456 L538.5 452 L537 440 L533.5 432Z M544.5 296.5 L548 300 L551 313 L551.5 327 L549.5 329.5 L548.6 313 L546 302Z M530.5 385.7 L536.2 385.7 L536.2 395.6 L530.5 395.6Z M536.5 398 L538.8 399 L539.8 412 L538 411Z M547 515 L552 515 L552 522 L549 521Z M526 517 L528 517 L525 530 L521 540 L520 538 L523.5 528Z M523.8 346 L531 346 L534.3 351 L532 358.5 L526.5 358.5 L526.5 352.5 L523.8 352.5Z M335 366 L338 365.5 L340 368 L338 370 L336 369Z M341 369 L344 368 L345.5 371 L343 373 L341.5 378 L339.5 377 L341 372Z M337 373 L339 373 L338.5 376 L336.5 376Z"/>
<path fill="#1c2f74" d="M525 347.2 L530.3 347.2 L533 351 L531 357.3 L527.7 357.3 L527.7 351.3 L525 351.3Z"/>
<path d="M314.3 466.7 Q322 481 325.5 494 T325.5 515" fill="none" stroke="#fff" stroke-width="1.7" stroke-dasharray="1.7 3.1"/>
</g>
<rect x="263.5" y="253.3" width="289.5" height="504.2" fill="none" stroke="#000" stroke-width="1" shape-rendering="crispEdges"/>
<text class="bc" transform="translate(513.8 743) rotate(-90)" x="0" y="0">Bray-Curtis</text>
<text class="ttl" text-anchor="middle" transform="translate(246.3 507) rotate(-90) scale(0.905 1)" x="0" y="0">EXP19:BC=0.026851</text>
<rect x="264" y="179" width="290" height="42.5" fill="url(#cbar)" stroke="#000" stroke-width="1" shape-rendering="crispEdges"/>
<text class="t24" transform="translate(562.4 173.4) rotate(-90) scale(0.91 1)" x="0" y="0">0</text>
<path d="M495.66 179 v3 M495.66 221.5 v-3" stroke="#000" stroke-width="1" shape-rendering="crispEdges"/>
<text class="t24" transform="translate(504.56 173.4) rotate(-90) scale(0.91 1)" x="0" y="0">0.2</text>
<path d="M437.82 179 v3 M437.82 221.5 v-3" stroke="#000" stroke-width="1" shape-rendering="crispEdges"/>
<text class="t24" transform="translate(446.72 173.4) rotate(-90) scale(0.91 1)" x="0" y="0">0.4</text>
<path d="M379.98 179 v3 M379.98 221.5 v-3" stroke="#000" stroke-width="1" shape-rendering="crispEdges"/>
<text class="t24" transform="translate(388.88 173.4) rotate(-90) scale(0.91 1)" x="0" y="0">0.6</text>
<path d="M322.14 179 v3 M322.14 221.5 v-3" stroke="#000" stroke-width="1" shape-rendering="crispEdges"/>
<text class="t24" transform="translate(331.04 173.4) rotate(-90) scale(0.91 1)" x="0" y="0">0.8</text>
<text class="t24" transform="translate(273.2 173.4) rotate(-90) scale(0.91 1)" x="0" y="0">1</text>
</g>
<g transform="translate(0 709)">
<g clip-path="url(#mclip)">
<use href="#ocean"/>
<path d="M492.1 254.3 L493.3 262.6 L493.8 270.8 L488.8 274.1 L485.5 277.4 L483.9 292.3 L485.5 305.5 L487.2 320.4 L485.5 326.1 L490.5 313.8 L497.9 311.3 L502.8 317.1 L507.8 316.2 L513.6 323.7 L511.9 328.6 L512.8 333.6 L516.1 340.2 L522.7 348.4 L527.6 350.1 L532.6 356.7 L533.4 366.6 L527.6 363.3 L524.3 365.0 L523.5 376.5 L527.6 381.5 L526.8 389.7 L522.7 406.2 L520.2 407.9 L516.1 404.6 L511.9 405.4 L508.6 399.6 L504.5 391.4 L501.2 393.0 L498.7 401.3 L496.2 409.5 L492.1 416.2 L491.3 422.8 L497.9 426.1 L504.5 434.3 L504.5 444.2 L497.9 447.5 L492.1 443.4 L494.6 449.2 L494.9 465.7 L497.9 478.9 L499.5 488.8 L494.6 502.0 L490.5 508.6 M490.5 506.0 L499.5 515.9 L496.2 524.1 L504.5 530.7 L499.5 539.0 L490.5 550.5 L483.0 567.1 L489.6 573.7 L493.8 581.9 L488.8 593.5 L488.0 601.7 L494.6 603.4 L497.9 593.5 L501.2 583.6 L504.5 586.9 L499.5 600.1 L494.6 616.6 L490.5 631.5 L481.4 638.1 L483.0 649.6 L487.2 666.2 L494.6 672.8 L483.0 682.7 L474.8 690.9 L476.4 707.4 L480.6 722.3 L481.4 735.5 L492.9 742.1 L494.6 757.0 M476.4 260.9 L479.7 259.3 L482.2 262.6 L480.6 266.7 L477.3 265.9Z M498.7 300.5 L502.0 298.1 L507.0 305.5 L507.8 315.4 L503.7 317.1 L499.5 308.8Z M501.2 330.3 L503.7 328.6 L506.2 333.6 L505.3 338.5 L501.5 337.7Z M507.0 350.1 L511.9 348.4 L518.5 353.4 L519.4 358.3 L512.8 357.5 L507.8 354.2Z M504.5 361.7 L509.5 360.0 L515.2 366.6 L516.1 376.5 L521.0 383.1 L519.4 388.1 L512.8 387.3 L507.0 381.5 L505.3 369.9Z M509.8 408.7 L512.8 407.9 L513.7 411.2 L511.9 413.7 L509.5 412.0Z M519.0 433.5 L522.7 432.7 L523.7 436.3 L521.0 438.4 L518.5 436.8Z M505.7 453.3 L508.1 452.5 L509.5 455.8 L507.8 458.3 L505.3 456.6Z M498.7 418.6 L502.0 417.5 L510.3 422.8 L511.4 425.7 L507.8 426.4 L499.5 421.1Z M496.6 466.5 L500.4 465.7 L505.3 474.0 L504.5 481.4 L499.5 482.2 L497.1 474.0Z M513.9 474.0 L517.4 473.1 L518.5 478.9 L516.1 482.2 L513.7 478.9Z M516.4 482.5 L519.7 482.2 L521.0 486.3 L519.0 488.8 L516.4 486.3Z M499.2 486.3 L504.5 485.5 L507.0 493.8 L503.7 498.7 L499.5 495.4Z M508.6 494.6 L516.1 493.8 L523.5 500.4 L524.3 507.0 L516.1 508.6 L509.5 502.0Z M519.0 493.4 L522.7 492.9 L523.7 495.8 L521.0 497.1Z M525.1 378.2 L529.3 376.5 L531.8 383.1 L527.6 386.4Z M509.5 330.3 L515.2 328.6 L517.7 336.9 L516.1 343.5 L511.1 340.2Z M511.4 531.6 L517.7 530.7 L519.4 536.5 L515.2 539.0 L511.4 536.5Z M511.4 544.3 L515.7 543.9 L516.4 548.9 L513.6 550.9 L511.1 548.9Z M516.4 518.3 L520.2 517.5 L521.0 524.1 L518.0 525.8 L516.1 522.5Z M496.6 531.1 L501.2 530.7 L501.5 537.3 L496.9 537.7Z M481.0 612.5 L493.8 617.4 L483.9 626.5 L480.6 623.2Z M480.6 659.5 L483.9 658.7 L484.7 662.0 L481.4 662.8Z M478.4 733.9 L481.4 733.0 L481.7 737.2 L478.9 737.5Z M478.1 700.8 L480.6 700.0 L481.4 702.8 L478.9 703.5Z M506.2 737.2 L516.1 732.2 L522.7 738.8 L519.4 747.1 L509.5 748.7Z M504.5 636.4 L509.5 634.8 L511.1 639.7 L507.0 641.4Z M488.0 580.3 L499.5 578.6 L496.2 590.2 L489.6 600.1Z M491.3 391.4 L490.5 399.6 L493.8 393.0 L497.9 388.9 M487.7 419.5 L488.0 424.4 M483.9 326.1 L485.5 328.6 M321.3 465.4 L323.8 466.7 L324.4 471.2 L322.5 471.8 L321.7 476.9 L321.3 466.7 M335.2 486.4 L337.8 486.4 L337.8 489.6 L335.5 489.3 L335.2 486.4 M330.8 492.7 L335.9 494.7 L341.0 497.2 L341.6 501.0 L338.4 497.8 L335.9 497.2 L334.6 502.3 L334.0 506.1 L332.3 505.8 L333.1 502.3 L334.6 498.5 L330.8 492.7 M321.3 494.0 L323.8 494.7 L323.2 498.5 L321.3 497.8 L321.3 494.0 M325.1 504.8 L327.6 505.4 L326.3 508.6 L324.4 508.0 M342.9 526.4 L347.3 523.2 L346.0 528.9 L344.1 530.2 L342.9 526.4 M337.8 546.1 L344.1 544.2 L344.8 551.8 L341.6 553.1 L339.7 549.3 M314.3 543.5 L317.5 544.2 L317.1 548.0 M314.0 514.3 L314.3 518.1" fill="none" stroke="#000" stroke-width="1" stroke-linejoin="round"/>
<path d="M256.3 680.5L297.3 680.5L297.3 362.5L256.3 362.5Z M256.3 734.4L270.2 734.4L270.2 679.1L256.3 679.1Z" fill="#fff"/>
<use href="#landc" fill="none" stroke="#fff" stroke-width="2" stroke-dasharray="1.5 6 3 11 1 8 2.5 15 1 5" transform="translate(-0.3 0.1)"/>
<use href="#landi" fill="none" stroke="#fff" stroke-width="2.2" stroke-dasharray="2 2.5 3.5 4 1 3 2.5 5 1 2" transform="translate(-0.3 0.1)"/>
<use href="#landc" fill="#000"/><use href="#landi" fill="#000"/>
<path d="M264 363 L281 363 L287 370 L293 384 L295 405 L294 430 L284 433 L264 433Z" fill="#fff"/>
<path d="M264 363 L281 363 L287 370 L293 384 L295 405 L294 430 L284 433 L264 433Z" fill="#000" filter="url(#speck)"/>
<use href="#inland" fill="#fff"/>
<path fill="#fff" d="M533 425 L540 428 L543 452 L546 474 L544 474 L541 456 L538.5 452 L537 440 L533.5 432Z M544.5 296.5 L548 300 L551 313 L551.5 327 L549.5 329.5 L548.6 313 L546 302Z M530.5 385.7 L536.2 385.7 L536.2 395.6 L530.5 395.6Z M536.5 398 L538.8 399 L539.8 412 L538 411Z M547 515 L552 515 L552 522 L549 521Z M526 517 L528 517 L525 530 L521 540 L520 538 L523.5 528Z M523.8 346 L531 346 L534.3 351 L532 358.5 L526.5 358.5 L526.5 352.5 L523.8 352.5Z M335 366 L338 365.5 L340 368 L338 370 L336 369Z M341 369 L344 368 L345.5 371 L343 373 L341.5 378 L339.5 377 L341 372Z M337 373 L339 373 L338.5 376 L336.5 376Z"/>
<path fill="#1c2f74" d="M525 347.2 L530.3 347.2 L533 351 L531 357.3 L527.7 357.3 L527.7 351.3 L525 351.3Z"/>
<path d="M314.3 466.7 Q322 481 325.5 494 T325.5 515" fill="none" stroke="#fff" stroke-width="1.7" stroke-dasharray="1.7 3.1"/>
</g>
<rect x="263.5" y="253.3" width="289.5" height="504.2" fill="none" stroke="#000" stroke-width="1" shape-rendering="crispEdges"/>
<text class="bc" transform="translate(513.8 743) rotate(-90)" x="0" y="0">Bray-Curtis</text>
<text class="ttl" text-anchor="middle" transform="translate(246.3 507) rotate(-90) scale(0.905 1)" x="0" y="0">EXP19:BC=0.031639</text>
<rect x="264" y="179" width="290" height="42.5" fill="url(#cbar)" stroke="#000" stroke-width="1" shape-rendering="crispEdges"/>
<text class="t24" transform="translate(562.4 173.4) rotate(-90) scale(0.91 1)" x="0" y="0">0</text>
<path d="M495.66 179 v3 M495.66 221.5 v-3" stroke="#000" stroke-width="1" shape-rendering="crispEdges"/>
<text class="t24" transform="translate(504.56 173.4) rotate(-90) scale(0.91 1)" x="0" y="0">0.2</text>
<path d="M437.82 179 v3 M437.82 221.5 v-3" stroke="#000" stroke-width="1" shape-rendering="crispEdges"/>
<text class="t24" transform="translate(446.72 173.4) rotate(-90) scale(0.91 1)" x="0" y="0">0.4</text>
<path d="M379.98 179 v3 M379.98 221.5 v-3" stroke="#000" stroke-width="1" shape-rendering="crispEdges"/>
<text class="t24" transform="translate(388.88 173.4) rotate(-90) scale(0.91 1)" x="0" y="0">0.6</text>
<path d="M322.14 179 v3 M322.14 221.5 v-3" stroke="#000" stroke-width="1" shape-rendering="crispEdges"/>
<text class="t24" transform="translate(331.04 173.4) rotate(-90) scale(0.91 1)" x="0" y="0">0.8</text>
<text class="t24" transform="translate(273.2 173.4) rotate(-90) scale(0.91 1)" x="0" y="0">1</text>
</g>
<g stroke="#000" stroke-width="1" shape-rendering="crispEdges" fill="none">
<line x1="792.2" y1="1358.5" x2="805.5" y2="1358.5"/>
<line x1="792.2" y1="1334.56" x2="805.5" y2="1334.56"/>
<line x1="792.2" y1="1310.62" x2="805.5" y2="1310.62"/>
<line x1="792.2" y1="1286.68" x2="805.5" y2="1286.68"/>
<line x1="792.2" y1="1262.74" x2="805.5" y2="1262.74"/>
<line x1="792.2" y1="1238.8" x2="805.5" y2="1238.8"/>
<line x1="792.2" y1="1214.86" x2="805.5" y2="1214.86"/>
<line x1="792.2" y1="1190.92" x2="805.5" y2="1190.92"/>
<line x1="792.2" y1="1166.98" x2="805.5" y2="1166.98"/>
<line x1="792.2" y1="1143.04" x2="805.5" y2="1143.04"/>
<line x1="792.2" y1="1119.1" x2="805.5" y2="1119.1"/>
<line x1="792.2" y1="1095.16" x2="805.5" y2="1095.16"/>
<line x1="792.2" y1="1071.22" x2="805.5" y2="1071.22"/>
<line x1="792.2" y1="1047.28" x2="805.5" y2="1047.28"/>
<line x1="792.2" y1="1023.34" x2="805.5" y2="1023.34"/>
<line x1="792.2" y1="999.4" x2="805.5" y2="999.4"/>
<line x1="792.2" y1="975.46" x2="805.5" y2="975.46"/>
<line x1="792.2" y1="951.52" x2="805.5" y2="951.52"/>
<line x1="792.2" y1="927.58" x2="805.5" y2="927.58"/>
<line x1="792.2" y1="903.64" x2="805.5" y2="903.64"/>
<line x1="792.2" y1="879.7" x2="805.5" y2="879.7"/>
<line x1="792.2" y1="855.76" x2="805.5" y2="855.76"/>
<line x1="792.2" y1="831.82" x2="805.5" y2="831.82"/>
<line x1="792.2" y1="807.88" x2="805.5" y2="807.88"/>
<line x1="792.2" y1="783.94" x2="805.5" y2="783.94"/>
<line x1="792.2" y1="760" x2="805.5" y2="760"/>
<line x1="792.2" y1="736.06" x2="805.5" y2="736.06"/>
<line x1="792.2" y1="712.12" x2="805.5" y2="712.12"/>
<line x1="792.2" y1="688.18" x2="805.5" y2="688.18"/>
<line x1="792.2" y1="664.24" x2="805.5" y2="664.24"/>
<line x1="792.2" y1="640.3" x2="805.5" y2="640.3"/>
<line x1="792.2" y1="616.36" x2="805.5" y2="616.36"/>
<line x1="792.2" y1="592.42" x2="805.5" y2="592.42"/>
<line x1="792.2" y1="568.48" x2="805.5" y2="568.48"/>
<line x1="792.2" y1="544.54" x2="805.5" y2="544.54"/>
<line x1="792.2" y1="520.6" x2="805.5" y2="520.6"/>
<line x1="792.2" y1="496.66" x2="805.5" y2="496.66"/>
<line x1="792.2" y1="472.72" x2="805.5" y2="472.72"/>
<line x1="792.2" y1="448.78" x2="805.5" y2="448.78"/>
<line x1="792.2" y1="424.84" x2="805.5" y2="424.84"/>
<line x1="792.2" y1="400.9" x2="805.5" y2="400.9"/>
<line x1="792.2" y1="376.96" x2="805.5" y2="376.96"/>
<line x1="792.2" y1="353.02" x2="805.5" y2="353.02"/>
<line x1="792.2" y1="329.08" x2="805.5" y2="329.08"/>
<line x1="792.2" y1="305.14" x2="805.5" y2="305.14"/>
<line x1="792.2" y1="281.2" x2="805.5" y2="281.2"/>
<line x1="792.2" y1="257.26" x2="805.5" y2="257.26"/>
<line x1="792.2" y1="233.32" x2="805.5" y2="233.32"/>
<line x1="792.2" y1="209.38" x2="805.5" y2="209.38"/>
<line x1="792.2" y1="185.44" x2="805.5" y2="185.44"/>
<line x1="792.2" y1="161.5" x2="805.5" y2="161.5"/>
<line x1="647.7" y1="1356.9" x2="647.7" y2="1369.5"/>
<line x1="710.5" y1="1356.9" x2="710.5" y2="1369.5"/>
<line x1="773.3" y1="1356.9" x2="773.3" y2="1369.5"/>
</g>
<g shape-rendering="crispEdges">
<rect x="710" y="1358" width="1" height="1" fill="#00ff00"/>
<rect x="706.8" y="1328.16" width="4.1" height="14" fill="#00ff00"/>
<rect x="710.1" y="1304.22" width="9.7" height="14" fill="#00ff00"/>
<rect x="709" y="1280.28" width="2" height="14" fill="#00ff00"/>
<rect x="710" y="1256.34" width="2.9" height="14" fill="#0000ff"/>
<rect x="710" y="1232.4" width="2.9" height="14" fill="#0000ff"/>
<rect x="710" y="1214.36" width="1" height="1" fill="#0000ff"/>
<rect x="710" y="1184.52" width="2" height="14" fill="#0000ff"/>
<rect x="704.9" y="1160.58" width="6" height="14" fill="#0000ff"/>
<rect x="710" y="1142.54" width="1" height="1" fill="#00ffff"/>
<rect x="710" y="1118.6" width="1" height="1" fill="#00ffff"/>
<rect x="710" y="1094.66" width="1" height="1" fill="#00ffff"/>
<rect x="710" y="1070.72" width="1" height="1" fill="#00ffff"/>
<rect x="710" y="1046.78" width="1" height="1" fill="#00ffff"/>
<rect x="706.6" y="1016.94" width="4.3" height="14" fill="#ff0000"/>
<rect x="706.6" y="993" width="4.3" height="14" fill="#ff0000"/>
<rect x="710" y="974.96" width="1" height="1" fill="#ff0000"/>
<rect x="701" y="945.12" width="9.9" height="14" fill="#ff0000"/>
<rect x="710.1" y="921.18" width="39.8" height="14" fill="#ff0000"/>
<rect x="694.9" y="897.24" width="16" height="14" fill="#ff0000"/>
<rect x="710.1" y="873.3" width="5.8" height="14" fill="#ff0000"/>
<rect x="705.7" y="849.36" width="5.2" height="14" fill="#ff0000"/>
<rect x="710" y="831.32" width="1" height="1" fill="#ff0000"/>
<rect x="710" y="807.38" width="1" height="1" fill="#ff0000"/>
<rect x="710" y="783.44" width="1" height="1" fill="#ff0000"/>
<rect x="710" y="759.5" width="1" height="1" fill="#ff00ff"/>
<rect x="709.8" y="729.66" width="2.2" height="14" fill="#ff00ff"/>
<rect x="696" y="705.72" width="14.9" height="14" fill="#ff00ff"/>
<rect x="709.8" y="681.78" width="3.1" height="14" fill="#ff00ff"/>
<rect x="709.8" y="657.84" width="3.1" height="14" fill="#ff00ff"/>
<rect x="710" y="639.8" width="1" height="1" fill="#ff00ff"/>
<rect x="710" y="615.86" width="1" height="1" fill="#ff00ff"/>
<rect x="710" y="591.92" width="1" height="1" fill="#ff00ff"/>
<rect x="710" y="567.98" width="1" height="1" fill="#ff00ff"/>
<rect x="710" y="544.04" width="1" height="1" fill="#ff00ff"/>
<rect x="710" y="520.1" width="1" height="1" fill="#000000"/>
<rect x="710" y="496.16" width="1" height="1" fill="#000000"/>
<rect x="709.8" y="466.32" width="3.1" height="14" fill="#000000"/>
<rect x="710" y="448.28" width="1" height="1" fill="#000000"/>
<rect x="708.7" y="418.44" width="2.2" height="14" fill="#000000"/>
<rect x="708" y="394.5" width="2.9" height="14" fill="#000000"/>
<rect x="710" y="370.56" width="2.9" height="14" fill="#000000"/>
<rect x="702.9" y="346.62" width="8" height="14" fill="#000000"/>
<rect x="709.8" y="322.68" width="40.2" height="14" fill="#000000"/>
<rect x="686.7" y="298.74" width="24.2" height="14" fill="#000000"/>
<rect x="709.8" y="274.8" width="2" height="14" fill="#000000"/>
<rect x="708.7" y="250.86" width="2.2" height="14" fill="#000000"/>
<rect x="710" y="232.82" width="1" height="1" fill="#000000"/>
<rect x="710" y="208.88" width="1" height="1" fill="#000000"/>
<rect x="709.5" y="179.04" width="2.3" height="14" fill="#000000"/>
<rect x="710" y="161" width="1" height="1" fill="#000000"/>
</g>
<line x1="620.3" y1="1274.2" x2="802.5" y2="1274.2" stroke="#000" stroke-width="1" stroke-dasharray="1 3.85" shape-rendering="crispEdges"/>
<line x1="620.3" y1="1155" x2="802.5" y2="1155" stroke="#000" stroke-width="1" stroke-dasharray="1 3.85" shape-rendering="crispEdges"/>
<line x1="620.3" y1="1036" x2="802.5" y2="1036" stroke="#000" stroke-width="1" stroke-dasharray="1 3.85" shape-rendering="crispEdges"/>
<line x1="620.3" y1="771.1" x2="802.5" y2="771.1" stroke="#000" stroke-width="1" stroke-dasharray="1 3.85" shape-rendering="crispEdges"/>
<line x1="620.3" y1="532.2" x2="802.5" y2="532.2" stroke="#000" stroke-width="1" stroke-dasharray="1 3.85" shape-rendering="crispEdges"/>
<path d="M616.3 915.68 L805.5 940.08 M616.3 940.08 L805.5 915.68" stroke="#000" stroke-width="2.4" fill="none"/>

<g stroke="#000" stroke-width="1" shape-rendering="crispEdges" fill="none">
<line x1="616.3" y1="1369.5" x2="806" y2="1369.5"/>
<line x1="805.5" y1="149.2" x2="805.5" y2="1369.5"/>
</g>
<text class="t24" text-anchor="end" transform="translate(656.6 1375.8) rotate(-90) scale(0.97 1)" x="0" y="0">20</text>
<text class="t24" text-anchor="end" transform="translate(719.4 1375.8) rotate(-90) scale(0.97 1)" x="0" y="0">0</text>
<text class="t24" text-anchor="end" transform="translate(782.2 1375.8) rotate(-90) scale(0.97 1)" x="0" y="0">-20</text>
<text class="t24 xt" text-anchor="middle" transform="translate(834.8 1358.5) rotate(-90) scale(0.93 1)" x="0" y="0">0.6</text>
<text class="t24 xt" text-anchor="middle" transform="translate(834.8 1334.56) rotate(-90) scale(0.93 1)" x="0" y="0">0.9</text>
<text class="t24 xt" text-anchor="middle" transform="translate(834.8 1310.62) rotate(-90) scale(0.93 1)" x="0" y="0">1.4</text>
<text class="t24 xt" text-anchor="middle" transform="translate(834.8 1286.68) rotate(-90) scale(0.93 1)" x="0" y="0">2.0</text>
<text class="t24 xt" text-anchor="middle" transform="translate(834.8 1262.74) rotate(-90) scale(0.93 1)" x="0" y="0">3.0</text>
<text class="t24 xt" text-anchor="middle" transform="translate(834.8 1238.8) rotate(-90) scale(0.93 1)" x="0" y="0">4.5</text>
<text class="t24 xt" text-anchor="middle" transform="translate(834.8 1214.86) rotate(-90) scale(0.93 1)" x="0" y="0">6.6</text>
<text class="t24 xt" text-anchor="middle" transform="translate(834.8 1190.92) rotate(-90) scale(0.93 1)" x="0" y="0">10</text>
<text class="t24 xt" text-anchor="middle" transform="translate(834.8 1166.98) rotate(-90) scale(0.93 1)" x="0" y="0">15</text>
<text class="t24 xt" text-anchor="middle" transform="translate(834.8 1143.04) rotate(-90) scale(0.93 1)" x="0" y="0">3.0</text>
<text class="t24 xt" text-anchor="middle" transform="translate(834.8 1119.1) rotate(-90) scale(0.93 1)" x="0" y="0">4.5</text>
<text class="t24 xt" text-anchor="middle" transform="translate(834.8 1095.16) rotate(-90) scale(0.93 1)" x="0" y="0">6.6</text>
<text class="t24 xt" text-anchor="middle" transform="translate(834.8 1071.22) rotate(-90) scale(0.93 1)" x="0" y="0">10</text>
<text class="t24 xt" text-anchor="middle" transform="translate(834.8 1047.28) rotate(-90) scale(0.93 1)" x="0" y="0">15</text>
<text class="t24 xt" text-anchor="middle" transform="translate(834.8 1023.34) rotate(-90) scale(0.93 1)" x="0" y="0">3.0</text>
<text class="t24 xt" text-anchor="middle" transform="translate(834.8 999.4) rotate(-90) scale(0.93 1)" x="0" y="0">4.5</text>
<text class="t24 xt" text-anchor="middle" transform="translate(834.8 975.46) rotate(-90) scale(0.93 1)" x="0" y="0">6.6</text>
<text class="t24 xt" text-anchor="middle" transform="translate(834.8 951.52) rotate(-90) scale(0.93 1)" x="0" y="0">10</text>
<text class="t24 xt" text-anchor="middle" transform="translate(834.8 927.58) rotate(-90) scale(0.93 1)" x="0" y="0">15</text>
<text class="t24 xt" text-anchor="middle" transform="translate(834.8 903.64) rotate(-90) scale(0.93 1)" x="0" y="0">22</text>
<text class="t24 xt" text-anchor="middle" transform="translate(834.8 879.7) rotate(-90) scale(0.93 1)" x="0" y="0">32</text>
<text class="t24 xt" text-anchor="middle" transform="translate(834.8 855.76) rotate(-90) scale(0.93 1)" x="0" y="0">47</text>
<text class="t24 xt" text-anchor="middle" transform="translate(834.8 831.82) rotate(-90) scale(0.93 1)" x="0" y="0">70</text>
<text class="t24 xt" text-anchor="middle" transform="translate(834.8 807.88) rotate(-90) scale(0.93 1)" x="0" y="0">104</text>
<text class="t24 xt" text-anchor="middle" transform="translate(834.8 783.94) rotate(-90) scale(0.93 1)" x="0" y="0">154</text>
<text class="t24 xt" text-anchor="middle" transform="translate(834.8 760) rotate(-90) scale(0.93 1)" x="0" y="0">6.6</text>
<text class="t24 xt" text-anchor="middle" transform="translate(834.8 736.06) rotate(-90) scale(0.93 1)" x="0" y="0">10</text>
<text class="t24 xt" text-anchor="middle" transform="translate(834.8 712.12) rotate(-90) scale(0.93 1)" x="0" y="0">15</text>
<text class="t24 xt" text-anchor="middle" transform="translate(834.8 688.18) rotate(-90) scale(0.93 1)" x="0" y="0">22</text>
<text class="t24 xt" text-anchor="middle" transform="translate(834.8 664.24) rotate(-90) scale(0.93 1)" x="0" y="0">32</text>
<text class="t24 xt" text-anchor="middle" transform="translate(834.8 640.3) rotate(-90) scale(0.93 1)" x="0" y="0">47</text>
<text class="t24 xt" text-anchor="middle" transform="translate(834.8 616.36) rotate(-90) scale(0.93 1)" x="0" y="0">70</text>
<text class="t24 xt" text-anchor="middle" transform="translate(834.8 592.42) rotate(-90) scale(0.93 1)" x="0" y="0">104</text>
<text class="t24 xt" text-anchor="middle" transform="translate(834.8 568.48) rotate(-90) scale(0.93 1)" x="0" y="0">154</text>
<text class="t24 xt" text-anchor="middle" transform="translate(834.8 544.54) rotate(-90) scale(0.93 1)" x="0" y="0">228</text>
<text class="t24 xt" text-anchor="middle" transform="translate(834.8 520.6) rotate(-90) scale(0.93 1)" x="0" y="0">6.6</text>
<text class="t24 xt" text-anchor="middle" transform="translate(834.8 496.66) rotate(-90) scale(0.93 1)" x="0" y="0">10</text>
<text class="t24 xt" text-anchor="middle" transform="translate(834.8 472.72) rotate(-90) scale(0.93 1)" x="0" y="0">15</text>
<text class="t24 xt" text-anchor="middle" transform="translate(834.8 448.78) rotate(-90) scale(0.93 1)" x="0" y="0">22</text>
<text class="t24 xt" text-anchor="middle" transform="translate(834.8 424.84) rotate(-90) scale(0.93 1)" x="0" y="0">32</text>
<text class="t24 xt" text-anchor="middle" transform="translate(834.8 400.9) rotate(-90) scale(0.93 1)" x="0" y="0">47</text>
<text class="t24 xt" text-anchor="middle" transform="translate(834.8 376.96) rotate(-90) scale(0.93 1)" x="0" y="0">70</text>
<text class="t24 xt" text-anchor="middle" transform="translate(834.8 353.02) rotate(-90) scale(0.93 1)" x="0" y="0">104</text>
<text class="t24 xt" text-anchor="middle" transform="translate(834.8 329.08) rotate(-90) scale(0.93 1)" x="0" y="0">154</text>
<text class="t24 xt" text-anchor="middle" transform="translate(834.8 305.14) rotate(-90) scale(0.93 1)" x="0" y="0">228</text>
<text class="t24 xt" text-anchor="middle" transform="translate(834.8 281.2) rotate(-90) scale(0.93 1)" x="0" y="0">338</text>
<text class="t24 xt" text-anchor="middle" transform="translate(834.8 257.26) rotate(-90) scale(0.93 1)" x="0" y="0">502</text>
<text class="t24 xt" text-anchor="middle" transform="translate(834.8 233.32) rotate(-90) scale(0.93 1)" x="0" y="0">744</text>
<text class="t27" transform="translate(651.4 1364.2) rotate(-90) scale(0.86 1)" x="0" y="0">pico</text>
<text class="t27" transform="translate(651.4 1269.9) rotate(-90) scale(0.86 1)" x="0" y="0">cocco</text>
<text class="t27" transform="translate(651.4 1150.7) rotate(-90) scale(0.86 1)" x="0" y="0">diaz</text>
<text class="t27" transform="translate(651.4 1031.7) rotate(-90) scale(0.86 1)" x="0" y="0">diat</text>
<text class="t27" transform="translate(651.4 766.8) rotate(-90) scale(0.86 1)" x="0" y="0">mixo</text>
<text class="t27" transform="translate(651.4 527.9) rotate(-90) scale(0.86 1)" x="0" y="0">zoo</text>
<text class="t28" transform="translate(747.6 1423.7) rotate(180) scale(0.895 1)" x="0" y="0">biomass</text>
<path d="M756.3 1424.3 L770.1 1424.3 L764.5 1438.7 Z" fill="none" stroke="#000" stroke-width="1.3" stroke-linejoin="miter"/>
<path d="M756.7 1424.3 L764.2 1438.5" stroke="#000" stroke-width="2.2"/>
<g stroke="#000" stroke-width="1" shape-rendering="crispEdges" fill="none">
<line x1="1055.3" y1="1358.5" x2="1068.6" y2="1358.5"/>
<line x1="1055.3" y1="1334.56" x2="1068.6" y2="1334.56"/>
<line x1="1055.3" y1="1310.62" x2="1068.6" y2="1310.62"/>
<line x1="1055.3" y1="1286.68" x2="1068.6" y2="1286.68"/>
<line x1="1055.3" y1="1262.74" x2="1068.6" y2="1262.74"/>
<line x1="1055.3" y1="1238.8" x2="1068.6" y2="1238.8"/>
<line x1="1055.3" y1="1214.86" x2="1068.6" y2="1214.86"/>
<line x1="1055.3" y1="1190.92" x2="1068.6" y2="1190.92"/>
<line x1="1055.3" y1="1166.98" x2="1068.6" y2="1166.98"/>
<line x1="1055.3" y1="1143.04" x2="1068.6" y2="1143.04"/>
<line x1="1055.3" y1="1119.1" x2="1068.6" y2="1119.1"/>
<line x1="1055.3" y1="1095.16" x2="1068.6" y2="1095.16"/>
<line x1="1055.3" y1="1071.22" x2="1068.6" y2="1071.22"/>
<line x1="1055.3" y1="1047.28" x2="1068.6" y2="1047.28"/>
<line x1="1055.3" y1="1023.34" x2="1068.6" y2="1023.34"/>
<line x1="1055.3" y1="999.4" x2="1068.6" y2="999.4"/>
<line x1="1055.3" y1="975.46" x2="1068.6" y2="975.46"/>
<line x1="1055.3" y1="951.52" x2="1068.6" y2="951.52"/>
<line x1="1055.3" y1="927.58" x2="1068.6" y2="927.58"/>
<line x1="1055.3" y1="903.64" x2="1068.6" y2="903.64"/>
<line x1="1055.3" y1="879.7" x2="1068.6" y2="879.7"/>
<line x1="1055.3" y1="855.76" x2="1068.6" y2="855.76"/>
<line x1="1055.3" y1="831.82" x2="1068.6" y2="831.82"/>
<line x1="1055.3" y1="807.88" x2="1068.6" y2="807.88"/>
<line x1="1055.3" y1="783.94" x2="1068.6" y2="783.94"/>
<line x1="1055.3" y1="760" x2="1068.6" y2="760"/>
<line x1="1055.3" y1="736.06" x2="1068.6" y2="736.06"/>
<line x1="1055.3" y1="712.12" x2="1068.6" y2="712.12"/>
<line x1="1055.3" y1="688.18" x2="1068.6" y2="688.18"/>
<line x1="1055.3" y1="664.24" x2="1068.6" y2="664.24"/>
<line x1="1055.3" y1="640.3" x2="1068.6" y2="640.3"/>
<line x1="1055.3" y1="616.36" x2="1068.6" y2="616.36"/>
<line x1="1055.3" y1="592.42" x2="1068.6" y2="592.42"/>
<line x1="1055.3" y1="568.48" x2="1068.6" y2="568.48"/>
<line x1="1055.3" y1="544.54" x2="1068.6" y2="544.54"/>
<line x1="1055.3" y1="520.6" x2="1068.6" y2="520.6"/>
<line x1="1055.3" y1="496.66" x2="1068.6" y2="496.66"/>
<line x1="1055.3" y1="472.72" x2="1068.6" y2="472.72"/>
<line x1="1055.3" y1="448.78" x2="1068.6" y2="448.78"/>
<line x1="1055.3" y1="424.84" x2="1068.6" y2="424.84"/>
<line x1="1055.3" y1="400.9" x2="1068.6" y2="400.9"/>
<line x1="1055.3" y1="376.96" x2="1068.6" y2="376.96"/>
<line x1="1055.3" y1="353.02" x2="1068.6" y2="353.02"/>
<line x1="1055.3" y1="329.08" x2="1068.6" y2="329.08"/>
<line x1="1055.3" y1="305.14" x2="1068.6" y2="305.14"/>
<line x1="1055.3" y1="281.2" x2="1068.6" y2="281.2"/>
<line x1="1055.3" y1="257.26" x2="1068.6" y2="257.26"/>
<line x1="1055.3" y1="233.32" x2="1068.6" y2="233.32"/>
<line x1="1055.3" y1="209.38" x2="1068.6" y2="209.38"/>
<line x1="1055.3" y1="185.44" x2="1068.6" y2="185.44"/>
<line x1="1055.3" y1="161.5" x2="1068.6" y2="161.5"/>
<line x1="910.3" y1="1356.9" x2="910.3" y2="1369.5"/>
<line x1="973.3" y1="1356.9" x2="973.3" y2="1369.5"/>
<line x1="1036.6" y1="1356.9" x2="1036.6" y2="1369.5"/>
</g>
<g shape-rendering="crispEdges">
<rect x="972.8" y="1358" width="1" height="1" fill="#00ff00"/>
<rect x="972.8" y="1334.06" width="1" height="1" fill="#00ff00"/>
<rect x="972.8" y="1310.12" width="1" height="1" fill="#00ff00"/>
<rect x="972.8" y="1286.18" width="1" height="1" fill="#00ff00"/>
<rect x="972.9" y="1256.34" width="2.2" height="14" fill="#0000ff"/>
<rect x="972.9" y="1232.4" width="2.8" height="14" fill="#0000ff"/>
<rect x="972.9" y="1208.46" width="1.9" height="14" fill="#0000ff"/>
<rect x="972.9" y="1184.52" width="1.9" height="14" fill="#0000ff"/>
<rect x="967" y="1160.58" width="6.8" height="14" fill="#0000ff"/>
<rect x="972.8" y="1142.54" width="1" height="1" fill="#00ffff"/>
<rect x="972.8" y="1118.6" width="1" height="1" fill="#00ffff"/>
<rect x="972.8" y="1094.66" width="1" height="1" fill="#00ffff"/>
<rect x="972.8" y="1070.72" width="1" height="1" fill="#00ffff"/>
<rect x="972.8" y="1046.78" width="1" height="1" fill="#00ffff"/>
<rect x="972.8" y="1022.84" width="1" height="1" fill="#ff0000"/>
<rect x="972" y="993" width="1.8" height="14" fill="#ff0000"/>
<rect x="972" y="969.06" width="1.8" height="14" fill="#ff0000"/>
<rect x="972" y="945.12" width="1.8" height="14" fill="#ff0000"/>
<rect x="972.9" y="921.18" width="95.8" height="14" fill="#ff0000"/>
<rect x="972.8" y="903.14" width="1" height="1" fill="#ff0000"/>
<rect x="972.9" y="873.3" width="2.6" height="14" fill="#ff0000"/>
<rect x="966.2" y="849.36" width="7.6" height="14" fill="#ff0000"/>
<rect x="972.8" y="831.32" width="1" height="1" fill="#ff0000"/>
<rect x="972.8" y="807.38" width="1" height="1" fill="#ff0000"/>
<rect x="972.8" y="783.44" width="1" height="1" fill="#ff0000"/>
<rect x="972.7" y="753.6" width="2.1" height="14" fill="#ff00ff"/>
<rect x="972.9" y="729.66" width="2.9" height="14" fill="#ff00ff"/>
<rect x="954" y="705.72" width="20" height="14" fill="#ff00ff"/>
<rect x="972.9" y="681.78" width="6" height="14" fill="#ff00ff"/>
<rect x="972.9" y="657.84" width="2.9" height="14" fill="#ff00ff"/>
<rect x="972.9" y="633.9" width="2.9" height="14" fill="#ff00ff"/>
<rect x="972.8" y="615.86" width="1" height="1" fill="#ff00ff"/>
<rect x="972.8" y="591.92" width="1" height="1" fill="#ff00ff"/>
<rect x="972.8" y="567.98" width="1" height="1" fill="#ff00ff"/>
<rect x="972.8" y="544.04" width="1" height="1" fill="#ff00ff"/>
<rect x="972.8" y="520.1" width="1" height="1" fill="#000000"/>
<rect x="972.2" y="490.26" width="1.8" height="14" fill="#000000"/>
<rect x="972.8" y="472.22" width="1" height="1" fill="#000000"/>
<rect x="971" y="442.38" width="3" height="14" fill="#000000"/>
<rect x="972.8" y="424.34" width="1" height="1" fill="#000000"/>
<rect x="972.8" y="400.4" width="1" height="1" fill="#000000"/>
<rect x="972.8" y="376.46" width="1" height="1" fill="#000000"/>
<rect x="972.8" y="352.52" width="1" height="1" fill="#000000"/>
<rect x="972.9" y="322.68" width="21.1" height="14" fill="#000000"/>
<rect x="972.8" y="304.64" width="1" height="1" fill="#000000"/>
<rect x="972.8" y="280.7" width="1" height="1" fill="#000000"/>
<rect x="972.8" y="256.76" width="1" height="1" fill="#000000"/>
<rect x="972.8" y="232.82" width="1" height="1" fill="#000000"/>
<rect x="972.9" y="202.98" width="2" height="14" fill="#000000"/>
<rect x="972.9" y="179.04" width="4" height="14" fill="#000000"/>
<rect x="968" y="155.1" width="6" height="14" fill="#000000"/>
</g>
<line x1="883.5" y1="1274.2" x2="1065.6" y2="1274.2" stroke="#000" stroke-width="1" stroke-dasharray="1 3.85" shape-rendering="crispEdges"/>
<line x1="883.5" y1="1155" x2="1065.6" y2="1155" stroke="#000" stroke-width="1" stroke-dasharray="1 3.85" shape-rendering="crispEdges"/>
<line x1="883.5" y1="1036" x2="1065.6" y2="1036" stroke="#000" stroke-width="1" stroke-dasharray="1 3.85" shape-rendering="crispEdges"/>
<line x1="883.5" y1="771.1" x2="1065.6" y2="771.1" stroke="#000" stroke-width="1" stroke-dasharray="1 3.85" shape-rendering="crispEdges"/>
<line x1="883.5" y1="532.2" x2="1065.6" y2="532.2" stroke="#000" stroke-width="1" stroke-dasharray="1 3.85" shape-rendering="crispEdges"/>
<path d="M879.5 915.68 L1068.6 940.08 M879.5 940.08 L1068.6 915.68" stroke="#000" stroke-width="2.4" fill="none"/>
<text class="t21" transform="translate(1057.2 934) rotate(-90) scale(1.04 1)" x="0" y="0">189</text>
<g stroke="#000" stroke-width="1" shape-rendering="crispEdges" fill="none">
<line x1="879.5" y1="1369.5" x2="1069.1" y2="1369.5"/>
<line x1="1068.6" y1="149.2" x2="1068.6" y2="1369.5"/>
</g>
<text class="t24" text-anchor="end" transform="translate(919.2 1375.8) rotate(-90) scale(0.97 1)" x="0" y="0">100</text>
<text class="t24" text-anchor="end" transform="translate(982.2 1375.8) rotate(-90) scale(0.97 1)" x="0" y="0">0</text>
<text class="t24" text-anchor="end" transform="translate(1045.5 1375.8) rotate(-90) scale(0.97 1)" x="0" y="0">-100</text>
<text class="t24 xt" text-anchor="middle" transform="translate(1097.9 1358.5) rotate(-90) scale(0.93 1)" x="0" y="0">0.6</text>
<text class="t24 xt" text-anchor="middle" transform="translate(1097.9 1334.56) rotate(-90) scale(0.93 1)" x="0" y="0">0.9</text>
<text class="t24 xt" text-anchor="middle" transform="translate(1097.9 1310.62) rotate(-90) scale(0.93 1)" x="0" y="0">1.4</text>
<text class="t24 xt" text-anchor="middle" transform="translate(1097.9 1286.68) rotate(-90) scale(0.93 1)" x="0" y="0">2.0</text>
<text class="t24 xt" text-anchor="middle" transform="translate(1097.9 1262.74) rotate(-90) scale(0.93 1)" x="0" y="0">3.0</text>
<text class="t24 xt" text-anchor="middle" transform="translate(1097.9 1238.8) rotate(-90) scale(0.93 1)" x="0" y="0">4.5</text>
<text class="t24 xt" text-anchor="middle" transform="translate(1097.9 1214.86) rotate(-90) scale(0.93 1)" x="0" y="0">6.6</text>
<text class="t24 xt" text-anchor="middle" transform="translate(1097.9 1190.92) rotate(-90) scale(0.93 1)" x="0" y="0">10</text>
<text class="t24 xt" text-anchor="middle" transform="translate(1097.9 1166.98) rotate(-90) scale(0.93 1)" x="0" y="0">15</text>
<text class="t24 xt" text-anchor="middle" transform="translate(1097.9 1143.04) rotate(-90) scale(0.93 1)" x="0" y="0">3.0</text>
<text class="t24 xt" text-anchor="middle" transform="translate(1097.9 1119.1) rotate(-90) scale(0.93 1)" x="0" y="0">4.5</text>
<text class="t24 xt" text-anchor="middle" transform="translate(1097.9 1095.16) rotate(-90) scale(0.93 1)" x="0" y="0">6.6</text>
<text class="t24 xt" text-anchor="middle" transform="translate(1097.9 1071.22) rotate(-90) scale(0.93 1)" x="0" y="0">10</text>
<text class="t24 xt" text-anchor="middle" transform="translate(1097.9 1047.28) rotate(-90) scale(0.93 1)" x="0" y="0">15</text>
<text class="t24 xt" text-anchor="middle" transform="translate(1097.9 1023.34) rotate(-90) scale(0.93 1)" x="0" y="0">3.0</text>
<text class="t24 xt" text-anchor="middle" transform="translate(1097.9 999.4) rotate(-90) scale(0.93 1)" x="0" y="0">4.5</text>
<text class="t24 xt" text-anchor="middle" transform="translate(1097.9 975.46) rotate(-90) scale(0.93 1)" x="0" y="0">6.6</text>
<text class="t24 xt" text-anchor="middle" transform="translate(1097.9 951.52) rotate(-90) scale(0.93 1)" x="0" y="0">10</text>
<text class="t24 xt" text-anchor="middle" transform="translate(1097.9 927.58) rotate(-90) scale(0.93 1)" x="0" y="0">15</text>
<text class="t24 xt" text-anchor="middle" transform="translate(1097.9 903.64) rotate(-90) scale(0.93 1)" x="0" y="0">22</text>
<text class="t24 xt" text-anchor="middle" transform="translate(1097.9 879.7) rotate(-90) scale(0.93 1)" x="0" y="0">32</text>
<text class="t24 xt" text-anchor="middle" transform="translate(1097.9 855.76) rotate(-90) scale(0.93 1)" x="0" y="0">47</text>
<text class="t24 xt" text-anchor="middle" transform="translate(1097.9 831.82) rotate(-90) scale(0.93 1)" x="0" y="0">70</text>
<text class="t24 xt" text-anchor="middle" transform="translate(1097.9 807.88) rotate(-90) scale(0.93 1)" x="0" y="0">104</text>
<text class="t24 xt" text-anchor="middle" transform="translate(1097.9 783.94) rotate(-90) scale(0.93 1)" x="0" y="0">154</text>
<text class="t24 xt" text-anchor="middle" transform="translate(1097.9 760) rotate(-90) scale(0.93 1)" x="0" y="0">6.6</text>
<text class="t24 xt" text-anchor="middle" transform="translate(1097.9 736.06) rotate(-90) scale(0.93 1)" x="0" y="0">10</text>
<text class="t24 xt" text-anchor="middle" transform="translate(1097.9 712.12) rotate(-90) scale(0.93 1)" x="0" y="0">15</text>
<text class="t24 xt" text-anchor="middle" transform="translate(1097.9 688.18) rotate(-90) scale(0.93 1)" x="0" y="0">22</text>
<text class="t24 xt" text-anchor="middle" transform="translate(1097.9 664.24) rotate(-90) scale(0.93 1)" x="0" y="0">32</text>
<text class="t24 xt" text-anchor="middle" transform="translate(1097.9 640.3) rotate(-90) scale(0.93 1)" x="0" y="0">47</text>
<text class="t24 xt" text-anchor="middle" transform="translate(1097.9 616.36) rotate(-90) scale(0.93 1)" x="0" y="0">70</text>
<text class="t24 xt" text-anchor="middle" transform="translate(1097.9 592.42) rotate(-90) scale(0.93 1)" x="0" y="0">104</text>
<text class="t24 xt" text-anchor="middle" transform="translate(1097.9 568.48) rotate(-90) scale(0.93 1)" x="0" y="0">154</text>
<text class="t24 xt" text-anchor="middle" transform="translate(1097.9 544.54) rotate(-90) scale(0.93 1)" x="0" y="0">228</text>
<text class="t24 xt" text-anchor="middle" transform="translate(1097.9 520.6) rotate(-90) scale(0.93 1)" x="0" y="0">6.6</text>
<text class="t24 xt" text-anchor="middle" transform="translate(1097.9 496.66) rotate(-90) scale(0.93 1)" x="0" y="0">10</text>
<text class="t24 xt" text-anchor="middle" transform="translate(1097.9 472.72) rotate(-90) scale(0.93 1)" x="0" y="0">15</text>
<text class="t24 xt" text-anchor="middle" transform="translate(1097.9 448.78) rotate(-90) scale(0.93 1)" x="0" y="0">22</text>
<text class="t24 xt" text-anchor="middle" transform="translate(1097.9 424.84) rotate(-90) scale(0.93 1)" x="0" y="0">32</text>
<text class="t24 xt" text-anchor="middle" transform="translate(1097.9 400.9) rotate(-90) scale(0.93 1)" x="0" y="0">47</text>
<text class="t24 xt" text-anchor="middle" transform="translate(1097.9 376.96) rotate(-90) scale(0.93 1)" x="0" y="0">70</text>
<text class="t24 xt" text-anchor="middle" transform="translate(1097.9 353.02) rotate(-90) scale(0.93 1)" x="0" y="0">104</text>
<text class="t24 xt" text-anchor="middle" transform="translate(1097.9 329.08) rotate(-90) scale(0.93 1)" x="0" y="0">154</text>
<text class="t24 xt" text-anchor="middle" transform="translate(1097.9 305.14) rotate(-90) scale(0.93 1)" x="0" y="0">228</text>
<text class="t24 xt" text-anchor="middle" transform="translate(1097.9 281.2) rotate(-90) scale(0.93 1)" x="0" y="0">338</text>
<text class="t24 xt" text-anchor="middle" transform="translate(1097.9 257.26) rotate(-90) scale(0.93 1)" x="0" y="0">502</text>
<text class="t24 xt" text-anchor="middle" transform="translate(1097.9 233.32) rotate(-90) scale(0.93 1)" x="0" y="0">744</text>
<text class="t27" transform="translate(914.6 1364.2) rotate(-90) scale(0.86 1)" x="0" y="0">pico</text>
<text class="t27" transform="translate(914.6 1269.9) rotate(-90) scale(0.86 1)" x="0" y="0">cocco</text>
<text class="t27" transform="translate(914.6 1150.7) rotate(-90) scale(0.86 1)" x="0" y="0">diaz</text>
<text class="t27" transform="translate(914.6 1031.7) rotate(-90) scale(0.86 1)" x="0" y="0">diat</text>
<text class="t27" transform="translate(914.6 766.8) rotate(-90) scale(0.86 1)" x="0" y="0">mixo</text>
<text class="t27" transform="translate(914.6 527.9) rotate(-90) scale(0.86 1)" x="0" y="0">zoo</text>
<text class="t28" transform="translate(989.6 1436.5) rotate(180) scale(0.895 1)" x="0" y="0">area</text>
<path d="M998.3 1437.1 L1011.4 1437.1 L1006.7 1451.5 Z" fill="none" stroke="#000" stroke-width="1.3" stroke-linejoin="miter"/>
<path d="M998.7 1437.1 L1006.4 1451.3" stroke="#000" stroke-width="2.2"/>
</g></svg></body></html>
